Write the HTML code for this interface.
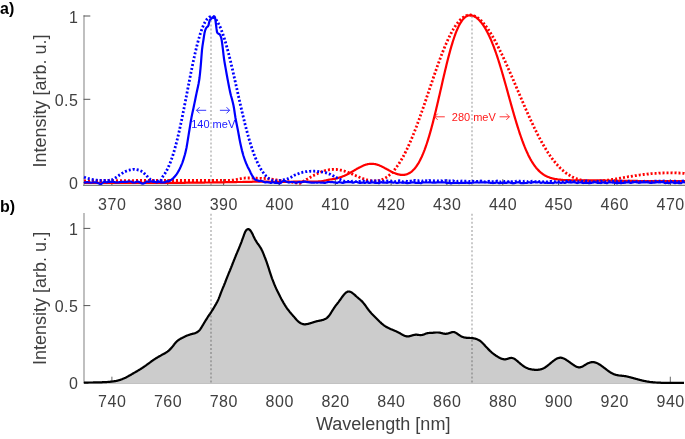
<!DOCTYPE html><html><head><meta charset="utf-8"><style>html,body{margin:0;padding:0;background:#fff;width:685px;height:439px;overflow:hidden}svg{display:block;will-change:transform;font-family:"Liberation Sans",sans-serif}</style></head><body><svg width="685" height="439" viewBox="0 0 685 439" font-family="Liberation Sans, sans-serif"><line x1="84" y1="15.2" x2="84" y2="186" stroke="#b0b0b0" stroke-width="1.6"/><line x1="83.2" y1="185.4" x2="685" y2="185.4" stroke="#808080" stroke-width="1.2"/><line x1="83.6" y1="16" x2="90.3" y2="16" stroke="#555" stroke-width="1"/><line x1="83.6" y1="99.3" x2="90.3" y2="99.3" stroke="#555" stroke-width="1"/><line x1="83.6" y1="182.6" x2="90.3" y2="182.6" stroke="#555" stroke-width="1"/><line x1="111.9" y1="185" x2="111.9" y2="179.2" stroke="#555" stroke-width="1"/><line x1="167.7" y1="185" x2="167.7" y2="179.2" stroke="#555" stroke-width="1"/><line x1="223.6" y1="185" x2="223.6" y2="179.2" stroke="#555" stroke-width="1"/><line x1="279.4" y1="185" x2="279.4" y2="179.2" stroke="#555" stroke-width="1"/><line x1="335.3" y1="185" x2="335.3" y2="179.2" stroke="#555" stroke-width="1"/><line x1="391.1" y1="185" x2="391.1" y2="179.2" stroke="#555" stroke-width="1"/><line x1="446.9" y1="185" x2="446.9" y2="179.2" stroke="#555" stroke-width="1"/><line x1="502.8" y1="185" x2="502.8" y2="179.2" stroke="#555" stroke-width="1"/><line x1="558.6" y1="185" x2="558.6" y2="179.2" stroke="#555" stroke-width="1"/><line x1="614.5" y1="185" x2="614.5" y2="179.2" stroke="#555" stroke-width="1"/><line x1="670.3" y1="185" x2="670.3" y2="179.2" stroke="#555" stroke-width="1"/><line x1="84" y1="213" x2="84" y2="383.4" stroke="#b0b0b0" stroke-width="1.6"/><line x1="83.6" y1="228.4" x2="90.3" y2="228.4" stroke="#555" stroke-width="1"/><line x1="83.6" y1="305.6" x2="90.3" y2="305.6" stroke="#555" stroke-width="1"/><line x1="83.6" y1="382.7" x2="90.3" y2="382.7" stroke="#555" stroke-width="1"/><line x1="111.9" y1="382.6" x2="111.9" y2="376.7" stroke="#666" stroke-width="1"/><line x1="167.7" y1="382.6" x2="167.7" y2="376.7" stroke="#666" stroke-width="1"/><line x1="223.6" y1="382.6" x2="223.6" y2="376.7" stroke="#666" stroke-width="1"/><line x1="279.4" y1="382.6" x2="279.4" y2="376.7" stroke="#666" stroke-width="1"/><line x1="335.3" y1="382.6" x2="335.3" y2="376.7" stroke="#666" stroke-width="1"/><line x1="391.1" y1="382.6" x2="391.1" y2="376.7" stroke="#666" stroke-width="1"/><line x1="446.9" y1="382.6" x2="446.9" y2="376.7" stroke="#666" stroke-width="1"/><line x1="502.8" y1="382.6" x2="502.8" y2="376.7" stroke="#666" stroke-width="1"/><line x1="558.6" y1="382.6" x2="558.6" y2="376.7" stroke="#666" stroke-width="1"/><line x1="614.5" y1="382.6" x2="614.5" y2="376.7" stroke="#666" stroke-width="1"/><line x1="670.3" y1="382.6" x2="670.3" y2="376.7" stroke="#666" stroke-width="1"/><path d="M84,382.7L84.5,382.7L85,382.7L85.5,382.6L86,382.6L86.5,382.6L87,382.6L87.5,382.6L88,382.6L88.5,382.5L89,382.5L89.5,382.5L90,382.5L90.5,382.5L91,382.5L91.5,382.5L92,382.5L92.5,382.5L93,382.5L93.5,382.4L94,382.4L94.5,382.4L95,382.4L95.5,382.4L96,382.4L96.5,382.4L97,382.4L97.5,382.4L98,382.4L98.5,382.4L99,382.3L99.5,382.3L100,382.3L100.5,382.3L101,382.3L101.5,382.3L102,382.3L102.5,382.2L103,382.2L103.5,382.2L104,382.2L104.5,382.2L105,382.1L105.5,382.1L106,382.1L106.5,382.1L107,382L107.5,382L108,381.9L108.5,381.9L109,381.9L109.5,381.8L110,381.8L110.5,381.7L111,381.7L111.5,381.6L112,381.6L112.5,381.5L113,381.4L113.5,381.4L114,381.3L114.5,381.2L115,381.1L115.5,381.1L116,381L116.5,380.9L117,380.8L117.5,380.6L118,380.5L118.5,380.4L119,380.2L119.5,380.1L120,379.9L120.5,379.8L121,379.6L121.5,379.4L122,379.2L122.5,379L123,378.8L123.5,378.6L124,378.4L124.5,378.1L125,377.9L125.5,377.7L126,377.4L126.5,377.2L127,376.9L127.5,376.6L128,376.4L128.5,376.1L129,375.8L129.5,375.5L130,375.2L130.5,375L131,374.7L131.5,374.4L132,374.1L132.5,373.8L133,373.5L133.5,373.2L134,372.9L134.5,372.6L135,372.4L135.5,372.1L136,371.8L136.5,371.5L137,371.2L137.5,370.9L138,370.6L138.5,370.3L139,370L139.5,369.7L140,369.4L140.5,369.1L141,368.8L141.5,368.5L142,368.1L142.5,367.8L143,367.5L143.5,367.1L144,366.8L144.5,366.4L145,366.1L145.5,365.7L146,365.4L146.5,365L147,364.6L147.5,364.3L148,363.9L148.5,363.5L149,363.2L149.5,362.8L150,362.4L150.5,362.1L151,361.7L151.5,361.3L152,361L152.5,360.6L153,360.3L153.5,359.9L154,359.6L154.5,359.3L155,358.9L155.5,358.6L156,358.3L156.5,358L157,357.7L157.5,357.4L158,357.1L158.5,356.8L159,356.5L159.5,356.2L160,355.9L160.5,355.7L161,355.4L161.5,355.1L162,354.8L162.5,354.6L163,354.3L163.5,354.1L164,353.8L164.5,353.5L165,353.2L165.5,352.9L166,352.6L166.5,352.3L167,351.9L167.5,351.6L168,351.2L168.5,350.8L169,350.4L169.5,349.9L170,349.4L170.5,348.9L171,348.4L171.5,347.8L172,347.2L172.5,346.6L173,346L173.5,345.3L174,344.7L174.5,344L175,343.4L175.5,342.8L176,342.2L176.5,341.7L177,341.2L177.5,340.8L178,340.4L178.5,340L179,339.7L179.5,339.4L180,339.1L180.5,338.8L181,338.5L181.5,338.2L182,338L182.5,337.7L183,337.5L183.5,337.2L184,337L184.5,336.7L185,336.5L185.5,336.3L186,336.1L186.5,335.8L187,335.6L187.5,335.4L188,335.2L188.5,335L189,334.9L189.5,334.7L190,334.5L190.5,334.4L191,334.2L191.5,334.1L192,334L192.5,333.8L193,333.7L193.5,333.6L194,333.5L194.5,333.4L195,333.2L195.5,333L196,332.8L196.5,332.6L197,332.3L197.5,332L198,331.6L198.5,331.2L199,330.7L199.5,330.2L200,329.6L200.5,328.9L201,328.1L201.5,327.3L202,326.5L202.5,325.7L203,324.9L203.5,324L204,323.2L204.5,322.3L205,321.5L205.5,320.7L206,319.9L206.5,319.1L207,318.3L207.5,317.5L208,316.7L208.5,316L209,315.2L209.5,314.5L210,313.8L210.5,313L211,312.3L211.5,311.5L212,310.7L212.5,310L213,309.1L213.5,308.3L214,307.5L214.5,306.7L215,305.8L215.5,304.9L216,304.1L216.5,303.1L217,302.2L217.5,301.2L218,300.2L218.5,299.1L219,297.9L219.5,296.7L220,295.3L220.5,294L221,292.6L221.5,291.3L222,290.1L222.5,288.9L223,287.7L223.5,286.5L224,285.3L224.5,284L225,282.8L225.5,281.5L226,280.2L226.5,278.9L227,277.6L227.5,276.4L228,275.2L228.5,273.9L229,272.7L229.5,271.5L230,270.3L230.5,269L231,267.8L231.5,266.5L232,265.3L232.5,264L233,262.7L233.5,261.5L234,260.2L234.5,259L235,257.7L235.5,256.5L236,255.2L236.5,254L237,252.9L237.5,251.7L238,250.5L238.5,249.3L239,248.1L239.5,246.9L240,245.7L240.5,244.4L241,243.1L241.5,241.8L242,240.4L242.5,239L243,237.7L243.5,236.3L244,234.9L244.5,233.5L245,232.3L245.5,231.3L246,230.5L246.5,229.9L247,229.5L247.5,229.3L248,229.2L248.5,229.2L249,229.3L249.5,229.6L250,230.1L250.5,230.6L251,231.3L251.5,232.2L252,233.1L252.5,234.1L253,235.1L253.5,236.2L254,237.2L254.5,238.2L255,239.2L255.5,240.1L256,240.9L256.5,241.8L257,242.5L257.5,243.3L258,244L258.5,244.7L259,245.4L259.5,246.1L260,246.9L260.5,247.6L261,248.5L261.5,249.4L262,250.4L262.5,251.5L263,252.7L263.5,253.9L264,255.2L264.5,256.5L265,257.7L265.5,259L266,260.3L266.5,261.7L267,263.1L267.5,264.6L268,266.1L268.5,267.7L269,269.2L269.5,270.8L270,272.3L270.5,273.9L271,275.4L271.5,276.8L272,278.3L272.5,279.6L273,281L273.5,282.2L274,283.5L274.5,284.7L275,285.8L275.5,287L276,288.1L276.5,289.2L277,290.2L277.5,291.3L278,292.3L278.5,293.3L279,294.3L279.5,295.3L280,296.3L280.5,297.3L281,298.2L281.5,299.2L282,300.1L282.5,301L283,301.9L283.5,302.8L284,303.6L284.5,304.4L285,305.3L285.5,306L286,306.8L286.5,307.5L287,308.3L287.5,309L288,309.6L288.5,310.3L289,310.9L289.5,311.6L290,312.2L290.5,312.8L291,313.4L291.5,314L292,314.5L292.5,315.1L293,315.7L293.5,316.3L294,316.8L294.5,317.4L295,318L295.5,318.6L296,319.1L296.5,319.7L297,320.2L297.5,320.7L298,321.2L298.5,321.7L299,322.1L299.5,322.5L300,322.8L300.5,323.1L301,323.4L301.5,323.6L302,323.8L302.5,324L303,324.1L303.5,324.2L304,324.3L304.5,324.3L305,324.3L305.5,324.3L306,324.2L306.5,324.2L307,324.1L307.5,324L308,323.9L308.5,323.8L309,323.6L309.5,323.5L310,323.3L310.5,323.2L311,323L311.5,322.9L312,322.7L312.5,322.5L313,322.4L313.5,322.2L314,322.1L314.5,321.9L315,321.7L315.5,321.6L316,321.5L316.5,321.3L317,321.2L317.5,321.1L318,321L318.5,320.9L319,320.8L319.5,320.7L320,320.6L320.5,320.5L321,320.4L321.5,320.3L322,320.1L322.5,320L323,319.9L323.5,319.7L324,319.5L324.5,319.3L325,319.1L325.5,318.9L326,318.6L326.5,318.2L327,317.9L327.5,317.4L328,316.9L328.5,316.4L329,315.8L329.5,315.1L330,314.4L330.5,313.6L331,312.8L331.5,312L332,311.2L332.5,310.4L333,309.5L333.5,308.8L334,308L334.5,307.3L335,306.6L335.5,305.9L336,305.2L336.5,304.6L337,304L337.5,303.3L338,302.7L338.5,302.1L339,301.4L339.5,300.7L340,300L340.5,299.3L341,298.6L341.5,297.9L342,297.2L342.5,296.5L343,295.8L343.5,295.2L344,294.6L344.5,294L345,293.5L345.5,293L346,292.6L346.5,292.2L347,292L347.5,291.7L348,291.6L348.5,291.5L349,291.5L349.5,291.6L350,291.7L350.5,291.9L351,292.1L351.5,292.4L352,292.7L352.5,293.1L353,293.5L353.5,293.9L354,294.3L354.5,294.7L355,295.1L355.5,295.6L356,296.1L356.5,296.5L357,297L357.5,297.4L358,297.8L358.5,298.3L359,298.7L359.5,299.1L360,299.5L360.5,300L361,300.4L361.5,300.9L362,301.4L362.5,301.9L363,302.5L363.5,303.1L364,303.7L364.5,304.3L365,305L365.5,305.7L366,306.4L366.5,307.1L367,307.8L367.5,308.5L368,309.2L368.5,309.8L369,310.5L369.5,311.1L370,311.7L370.5,312.3L371,312.9L371.5,313.5L372,314L372.5,314.5L373,315L373.5,315.5L374,316L374.5,316.5L375,317L375.5,317.5L376,318L376.5,318.5L377,319L377.5,319.5L378,320L378.5,320.5L379,321L379.5,321.5L380,322L380.5,322.4L381,322.9L381.5,323.4L382,323.8L382.5,324.2L383,324.6L383.5,325L384,325.4L384.5,325.7L385,326.1L385.5,326.4L386,326.7L386.5,327L387,327.3L387.5,327.6L388,327.8L388.5,328.1L389,328.3L389.5,328.5L390,328.8L390.5,329L391,329.2L391.5,329.4L392,329.6L392.5,329.8L393,330L393.5,330.2L394,330.4L394.5,330.6L395,330.9L395.5,331.1L396,331.3L396.5,331.5L397,331.8L397.5,332L398,332.3L398.5,332.5L399,332.8L399.5,333L400,333.3L400.5,333.6L401,333.9L401.5,334.2L402,334.4L402.5,334.7L403,335L403.5,335.2L404,335.5L404.5,335.7L405,335.9L405.5,336.1L406,336.2L406.5,336.3L407,336.4L407.5,336.4L408,336.4L408.5,336.4L409,336.3L409.5,336.2L410,336.1L410.5,335.9L411,335.8L411.5,335.6L412,335.5L412.5,335.3L413,335.2L413.5,335.1L414,334.9L414.5,334.8L415,334.8L415.5,334.7L416,334.7L416.5,334.7L417,334.7L417.5,334.8L418,334.8L418.5,334.9L419,335L419.5,335L420,335.1L420.5,335.1L421,335.1L421.5,335L422,335L422.5,334.9L423,334.7L423.5,334.6L424,334.4L424.5,334.2L425,334L425.5,333.8L426,333.6L426.5,333.4L427,333.3L427.5,333.2L428,333.1L428.5,333L429,333L429.5,332.9L430,332.9L430.5,332.9L431,332.9L431.5,332.8L432,332.8L432.5,332.8L433,332.8L433.5,332.7L434,332.7L434.5,332.6L435,332.6L435.5,332.5L436,332.5L436.5,332.5L437,332.5L437.5,332.5L438,332.5L438.5,332.5L439,332.6L439.5,332.6L440,332.7L440.5,332.8L441,333L441.5,333.1L442,333.2L442.5,333.3L443,333.5L443.5,333.6L444,333.7L444.5,333.7L445,333.8L445.5,333.8L446,333.8L446.5,333.7L447,333.7L447.5,333.6L448,333.5L448.5,333.3L449,333.2L449.5,333L450,332.8L450.5,332.7L451,332.5L451.5,332.3L452,332.2L452.5,332.1L453,332L453.5,332L454,332.1L454.5,332.2L455,332.4L455.5,332.6L456,332.9L456.5,333.2L457,333.5L457.5,333.9L458,334.3L458.5,334.6L459,335L459.5,335.3L460,335.6L460.5,335.9L461,336.2L461.5,336.4L462,336.7L462.5,336.9L463,337L463.5,337.2L464,337.4L464.5,337.5L465,337.6L465.5,337.7L466,337.7L466.5,337.8L467,337.8L467.5,337.9L468,337.9L468.5,337.9L469,337.9L469.5,337.9L470,338L470.5,338L471,338L471.5,338L472,338.1L472.5,338.1L473,338.2L473.5,338.3L474,338.4L474.5,338.5L475,338.6L475.5,338.7L476,338.9L476.5,339L477,339.2L477.5,339.4L478,339.7L478.5,339.9L479,340.2L479.5,340.5L480,340.8L480.5,341.2L481,341.6L481.5,342L482,342.5L482.5,343L483,343.5L483.5,344L484,344.5L484.5,345.1L485,345.6L485.5,346.2L486,346.7L486.5,347.3L487,347.8L487.5,348.3L488,348.9L488.5,349.4L489,349.9L489.5,350.4L490,350.9L490.5,351.3L491,351.8L491.5,352.3L492,352.7L492.5,353.1L493,353.5L493.5,353.9L494,354.3L494.5,354.6L495,355L495.5,355.3L496,355.7L496.5,356L497,356.3L497.5,356.6L498,356.9L498.5,357.2L499,357.5L499.5,357.7L500,358L500.5,358.2L501,358.5L501.5,358.7L502,358.8L502.5,359L503,359.1L503.5,359.2L504,359.3L504.5,359.3L505,359.3L505.5,359.3L506,359.2L506.5,359.1L507,359L507.5,358.8L508,358.7L508.5,358.5L509,358.3L509.5,358.2L510,358.1L510.5,358L511,357.9L511.5,357.9L512,358L512.5,358L513,358.2L513.5,358.4L514,358.6L514.5,358.9L515,359.2L515.5,359.6L516,360L516.5,360.4L517,360.8L517.5,361.2L518,361.6L518.5,362.1L519,362.5L519.5,362.9L520,363.4L520.5,363.8L521,364.2L521.5,364.6L522,365L522.5,365.4L523,365.8L523.5,366.1L524,366.5L524.5,366.8L525,367.1L525.5,367.4L526,367.6L526.5,367.9L527,368.1L527.5,368.3L528,368.5L528.5,368.7L529,368.9L529.5,369L530,369.1L530.5,369.2L531,369.3L531.5,369.4L532,369.5L532.5,369.6L533,369.6L533.5,369.7L534,369.7L534.5,369.8L535,369.8L535.5,369.8L536,369.8L536.5,369.8L537,369.8L537.5,369.8L538,369.8L538.5,369.7L539,369.7L539.5,369.6L540,369.5L540.5,369.4L541,369.3L541.5,369.1L542,369L542.5,368.8L543,368.6L543.5,368.4L544,368.1L544.5,367.8L545,367.5L545.5,367.2L546,366.8L546.5,366.5L547,366.1L547.5,365.7L548,365.3L548.5,364.9L549,364.5L549.5,364.1L550,363.7L550.5,363.2L551,362.8L551.5,362.4L552,362L552.5,361.6L553,361.2L553.5,360.8L554,360.4L554.5,360.1L555,359.7L555.5,359.4L556,359.1L556.5,358.8L557,358.6L557.5,358.3L558,358.2L558.5,358L559,357.9L559.5,357.8L560,357.7L560.5,357.7L561,357.7L561.5,357.8L562,357.9L562.5,358L563,358.2L563.5,358.4L564,358.6L564.5,358.9L565,359.1L565.5,359.4L566,359.7L566.5,360L567,360.4L567.5,360.7L568,361L568.5,361.4L569,361.7L569.5,362.1L570,362.5L570.5,362.8L571,363.2L571.5,363.5L572,363.9L572.5,364.3L573,364.6L573.5,364.9L574,365.3L574.5,365.6L575,365.9L575.5,366.2L576,366.4L576.5,366.7L577,366.9L577.5,367L578,367.2L578.5,367.3L579,367.3L579.5,367.3L580,367.3L580.5,367.2L581,367L581.5,366.9L582,366.7L582.5,366.4L583,366.2L583.5,365.9L584,365.6L584.5,365.3L585,365L585.5,364.7L586,364.4L586.5,364.1L587,363.8L587.5,363.6L588,363.3L588.5,363.1L589,362.9L589.5,362.7L590,362.5L590.5,362.4L591,362.3L591.5,362.2L592,362.1L592.5,362.1L593,362.1L593.5,362.1L594,362.2L594.5,362.3L595,362.4L595.5,362.6L596,362.7L596.5,362.9L597,363.1L597.5,363.4L598,363.6L598.5,363.9L599,364.2L599.5,364.5L600,364.8L600.5,365.1L601,365.5L601.5,365.8L602,366.2L602.5,366.5L603,366.9L603.5,367.3L604,367.7L604.5,368L605,368.4L605.5,368.8L606,369.2L606.5,369.6L607,370L607.5,370.4L608,370.7L608.5,371.1L609,371.5L609.5,371.8L610,372.1L610.5,372.5L611,372.8L611.5,373.1L612,373.3L612.5,373.6L613,373.8L613.5,374.1L614,374.3L614.5,374.4L615,374.6L615.5,374.7L616,374.9L616.5,375L617,375.1L617.5,375.2L618,375.3L618.5,375.4L619,375.5L619.5,375.5L620,375.6L620.5,375.6L621,375.7L621.5,375.7L622,375.8L622.5,375.8L623,375.9L623.5,375.9L624,376L624.5,376.1L625,376.1L625.5,376.2L626,376.3L626.5,376.4L627,376.5L627.5,376.6L628,376.7L628.5,376.9L629,377L629.5,377.1L630,377.2L630.5,377.4L631,377.5L631.5,377.6L632,377.8L632.5,377.9L633,378L633.5,378.2L634,378.3L634.5,378.5L635,378.6L635.5,378.7L636,378.9L636.5,379L637,379.1L637.5,379.3L638,379.4L638.5,379.6L639,379.7L639.5,379.8L640,380L640.5,380.1L641,380.2L641.5,380.3L642,380.5L642.5,380.6L643,380.7L643.5,380.8L644,380.9L644.5,381L645,381.1L645.5,381.2L646,381.3L646.5,381.4L647,381.5L647.5,381.6L648,381.7L648.5,381.7L649,381.8L649.5,381.9L650,382L650.5,382L651,382.1L651.5,382.1L652,382.2L652.5,382.2L653,382.3L653.5,382.3L654,382.4L654.5,382.4L655,382.4L655.5,382.5L656,382.5L656.5,382.5L657,382.6L657.5,382.6L658,382.6L658.5,382.7L659,382.7L659.5,382.7L660,382.7L660.5,382.7L661,382.8L661.5,382.8L662,382.8L662.5,382.8L663,382.8L663.5,382.8L664,382.9L664.5,382.9L665,382.9L665.5,382.9L666,382.9L666.5,382.9L667,382.9L667.5,382.9L668,382.9L668.5,382.9L669,382.9L669.5,382.9L670,382.9L670.5,382.9L671,382.9L671.5,382.9L672,382.9L672.5,382.9L673,382.9L673.5,382.9L674,382.9L674.5,382.9L675,382.9L675.5,382.9L676,382.9L676.5,382.9L677,382.9L677.5,382.9L678,382.9L678.5,382.8L679,382.8L679.5,382.8L680,382.8L680.5,382.8L681,382.8L681.5,382.8L682,382.8L682.5,382.8L683,382.8L683.5,382.8L684,382.8L684,383L84,383Z" fill="#cccccc" stroke="none"/><line x1="84" y1="383.5" x2="684" y2="383.5" stroke="#c2c2c2" stroke-width="1"/><line x1="211.0" y1="16.3" x2="211.0" y2="185" stroke="#000" stroke-opacity="0.38" stroke-width="1.1" stroke-dasharray="2 2.07"/><line x1="211.0" y1="213.7" x2="211.0" y2="383" stroke="#000" stroke-opacity="0.38" stroke-width="1.1" stroke-dasharray="2 2.07"/><line x1="472.0" y1="16.3" x2="472.0" y2="185" stroke="#000" stroke-opacity="0.38" stroke-width="1.1" stroke-dasharray="2 2.07"/><line x1="472.0" y1="213.7" x2="472.0" y2="383" stroke="#000" stroke-opacity="0.38" stroke-width="1.1" stroke-dasharray="2 2.07"/><path d="M84,382.7L84.5,382.7L85,382.7L85.5,382.6L86,382.6L86.5,382.6L87,382.6L87.5,382.6L88,382.6L88.5,382.5L89,382.5L89.5,382.5L90,382.5L90.5,382.5L91,382.5L91.5,382.5L92,382.5L92.5,382.5L93,382.5L93.5,382.4L94,382.4L94.5,382.4L95,382.4L95.5,382.4L96,382.4L96.5,382.4L97,382.4L97.5,382.4L98,382.4L98.5,382.4L99,382.3L99.5,382.3L100,382.3L100.5,382.3L101,382.3L101.5,382.3L102,382.3L102.5,382.2L103,382.2L103.5,382.2L104,382.2L104.5,382.2L105,382.1L105.5,382.1L106,382.1L106.5,382.1L107,382L107.5,382L108,381.9L108.5,381.9L109,381.9L109.5,381.8L110,381.8L110.5,381.7L111,381.7L111.5,381.6L112,381.6L112.5,381.5L113,381.4L113.5,381.4L114,381.3L114.5,381.2L115,381.1L115.5,381.1L116,381L116.5,380.9L117,380.8L117.5,380.6L118,380.5L118.5,380.4L119,380.2L119.5,380.1L120,379.9L120.5,379.8L121,379.6L121.5,379.4L122,379.2L122.5,379L123,378.8L123.5,378.6L124,378.4L124.5,378.1L125,377.9L125.5,377.7L126,377.4L126.5,377.2L127,376.9L127.5,376.6L128,376.4L128.5,376.1L129,375.8L129.5,375.5L130,375.2L130.5,375L131,374.7L131.5,374.4L132,374.1L132.5,373.8L133,373.5L133.5,373.2L134,372.9L134.5,372.6L135,372.4L135.5,372.1L136,371.8L136.5,371.5L137,371.2L137.5,370.9L138,370.6L138.5,370.3L139,370L139.5,369.7L140,369.4L140.5,369.1L141,368.8L141.5,368.5L142,368.1L142.5,367.8L143,367.5L143.5,367.1L144,366.8L144.5,366.4L145,366.1L145.5,365.7L146,365.4L146.5,365L147,364.6L147.5,364.3L148,363.9L148.5,363.5L149,363.2L149.5,362.8L150,362.4L150.5,362.1L151,361.7L151.5,361.3L152,361L152.5,360.6L153,360.3L153.5,359.9L154,359.6L154.5,359.3L155,358.9L155.5,358.6L156,358.3L156.5,358L157,357.7L157.5,357.4L158,357.1L158.5,356.8L159,356.5L159.5,356.2L160,355.9L160.5,355.7L161,355.4L161.5,355.1L162,354.8L162.5,354.6L163,354.3L163.5,354.1L164,353.8L164.5,353.5L165,353.2L165.5,352.9L166,352.6L166.5,352.3L167,351.9L167.5,351.6L168,351.2L168.5,350.8L169,350.4L169.5,349.9L170,349.4L170.5,348.9L171,348.4L171.5,347.8L172,347.2L172.5,346.6L173,346L173.5,345.3L174,344.7L174.5,344L175,343.4L175.5,342.8L176,342.2L176.5,341.7L177,341.2L177.5,340.8L178,340.4L178.5,340L179,339.7L179.5,339.4L180,339.1L180.5,338.8L181,338.5L181.5,338.2L182,338L182.5,337.7L183,337.5L183.5,337.2L184,337L184.5,336.7L185,336.5L185.5,336.3L186,336.1L186.5,335.8L187,335.6L187.5,335.4L188,335.2L188.5,335L189,334.9L189.5,334.7L190,334.5L190.5,334.4L191,334.2L191.5,334.1L192,334L192.5,333.8L193,333.7L193.5,333.6L194,333.5L194.5,333.4L195,333.2L195.5,333L196,332.8L196.5,332.6L197,332.3L197.5,332L198,331.6L198.5,331.2L199,330.7L199.5,330.2L200,329.6L200.5,328.9L201,328.1L201.5,327.3L202,326.5L202.5,325.7L203,324.9L203.5,324L204,323.2L204.5,322.3L205,321.5L205.5,320.7L206,319.9L206.5,319.1L207,318.3L207.5,317.5L208,316.7L208.5,316L209,315.2L209.5,314.5L210,313.8L210.5,313L211,312.3L211.5,311.5L212,310.7L212.5,310L213,309.1L213.5,308.3L214,307.5L214.5,306.7L215,305.8L215.5,304.9L216,304.1L216.5,303.1L217,302.2L217.5,301.2L218,300.2L218.5,299.1L219,297.9L219.5,296.7L220,295.3L220.5,294L221,292.6L221.5,291.3L222,290.1L222.5,288.9L223,287.7L223.5,286.5L224,285.3L224.5,284L225,282.8L225.5,281.5L226,280.2L226.5,278.9L227,277.6L227.5,276.4L228,275.2L228.5,273.9L229,272.7L229.5,271.5L230,270.3L230.5,269L231,267.8L231.5,266.5L232,265.3L232.5,264L233,262.7L233.5,261.5L234,260.2L234.5,259L235,257.7L235.5,256.5L236,255.2L236.5,254L237,252.9L237.5,251.7L238,250.5L238.5,249.3L239,248.1L239.5,246.9L240,245.7L240.5,244.4L241,243.1L241.5,241.8L242,240.4L242.5,239L243,237.7L243.5,236.3L244,234.9L244.5,233.5L245,232.3L245.5,231.3L246,230.5L246.5,229.9L247,229.5L247.5,229.3L248,229.2L248.5,229.2L249,229.3L249.5,229.6L250,230.1L250.5,230.6L251,231.3L251.5,232.2L252,233.1L252.5,234.1L253,235.1L253.5,236.2L254,237.2L254.5,238.2L255,239.2L255.5,240.1L256,240.9L256.5,241.8L257,242.5L257.5,243.3L258,244L258.5,244.7L259,245.4L259.5,246.1L260,246.9L260.5,247.6L261,248.5L261.5,249.4L262,250.4L262.5,251.5L263,252.7L263.5,253.9L264,255.2L264.5,256.5L265,257.7L265.5,259L266,260.3L266.5,261.7L267,263.1L267.5,264.6L268,266.1L268.5,267.7L269,269.2L269.5,270.8L270,272.3L270.5,273.9L271,275.4L271.5,276.8L272,278.3L272.5,279.6L273,281L273.5,282.2L274,283.5L274.5,284.7L275,285.8L275.5,287L276,288.1L276.5,289.2L277,290.2L277.5,291.3L278,292.3L278.5,293.3L279,294.3L279.5,295.3L280,296.3L280.5,297.3L281,298.2L281.5,299.2L282,300.1L282.5,301L283,301.9L283.5,302.8L284,303.6L284.5,304.4L285,305.3L285.5,306L286,306.8L286.5,307.5L287,308.3L287.5,309L288,309.6L288.5,310.3L289,310.9L289.5,311.6L290,312.2L290.5,312.8L291,313.4L291.5,314L292,314.5L292.5,315.1L293,315.7L293.5,316.3L294,316.8L294.5,317.4L295,318L295.5,318.6L296,319.1L296.5,319.7L297,320.2L297.5,320.7L298,321.2L298.5,321.7L299,322.1L299.5,322.5L300,322.8L300.5,323.1L301,323.4L301.5,323.6L302,323.8L302.5,324L303,324.1L303.5,324.2L304,324.3L304.5,324.3L305,324.3L305.5,324.3L306,324.2L306.5,324.2L307,324.1L307.5,324L308,323.9L308.5,323.8L309,323.6L309.5,323.5L310,323.3L310.5,323.2L311,323L311.5,322.9L312,322.7L312.5,322.5L313,322.4L313.5,322.2L314,322.1L314.5,321.9L315,321.7L315.5,321.6L316,321.5L316.5,321.3L317,321.2L317.5,321.1L318,321L318.5,320.9L319,320.8L319.5,320.7L320,320.6L320.5,320.5L321,320.4L321.5,320.3L322,320.1L322.5,320L323,319.9L323.5,319.7L324,319.5L324.5,319.3L325,319.1L325.5,318.9L326,318.6L326.5,318.2L327,317.9L327.5,317.4L328,316.9L328.5,316.4L329,315.8L329.5,315.1L330,314.4L330.5,313.6L331,312.8L331.5,312L332,311.2L332.5,310.4L333,309.5L333.5,308.8L334,308L334.5,307.3L335,306.6L335.5,305.9L336,305.2L336.5,304.6L337,304L337.5,303.3L338,302.7L338.5,302.1L339,301.4L339.5,300.7L340,300L340.5,299.3L341,298.6L341.5,297.9L342,297.2L342.5,296.5L343,295.8L343.5,295.2L344,294.6L344.5,294L345,293.5L345.5,293L346,292.6L346.5,292.2L347,292L347.5,291.7L348,291.6L348.5,291.5L349,291.5L349.5,291.6L350,291.7L350.5,291.9L351,292.1L351.5,292.4L352,292.7L352.5,293.1L353,293.5L353.5,293.9L354,294.3L354.5,294.7L355,295.1L355.5,295.6L356,296.1L356.5,296.5L357,297L357.5,297.4L358,297.8L358.5,298.3L359,298.7L359.5,299.1L360,299.5L360.5,300L361,300.4L361.5,300.9L362,301.4L362.5,301.9L363,302.5L363.5,303.1L364,303.7L364.5,304.3L365,305L365.5,305.7L366,306.4L366.5,307.1L367,307.8L367.5,308.5L368,309.2L368.5,309.8L369,310.5L369.5,311.1L370,311.7L370.5,312.3L371,312.9L371.5,313.5L372,314L372.5,314.5L373,315L373.5,315.5L374,316L374.5,316.5L375,317L375.5,317.5L376,318L376.5,318.5L377,319L377.5,319.5L378,320L378.5,320.5L379,321L379.5,321.5L380,322L380.5,322.4L381,322.9L381.5,323.4L382,323.8L382.5,324.2L383,324.6L383.5,325L384,325.4L384.5,325.7L385,326.1L385.5,326.4L386,326.7L386.5,327L387,327.3L387.5,327.6L388,327.8L388.5,328.1L389,328.3L389.5,328.5L390,328.8L390.5,329L391,329.2L391.5,329.4L392,329.6L392.5,329.8L393,330L393.5,330.2L394,330.4L394.5,330.6L395,330.9L395.5,331.1L396,331.3L396.5,331.5L397,331.8L397.5,332L398,332.3L398.5,332.5L399,332.8L399.5,333L400,333.3L400.5,333.6L401,333.9L401.5,334.2L402,334.4L402.5,334.7L403,335L403.5,335.2L404,335.5L404.5,335.7L405,335.9L405.5,336.1L406,336.2L406.5,336.3L407,336.4L407.5,336.4L408,336.4L408.5,336.4L409,336.3L409.5,336.2L410,336.1L410.5,335.9L411,335.8L411.5,335.6L412,335.5L412.5,335.3L413,335.2L413.5,335.1L414,334.9L414.5,334.8L415,334.8L415.5,334.7L416,334.7L416.5,334.7L417,334.7L417.5,334.8L418,334.8L418.5,334.9L419,335L419.5,335L420,335.1L420.5,335.1L421,335.1L421.5,335L422,335L422.5,334.9L423,334.7L423.5,334.6L424,334.4L424.5,334.2L425,334L425.5,333.8L426,333.6L426.5,333.4L427,333.3L427.5,333.2L428,333.1L428.5,333L429,333L429.5,332.9L430,332.9L430.5,332.9L431,332.9L431.5,332.8L432,332.8L432.5,332.8L433,332.8L433.5,332.7L434,332.7L434.5,332.6L435,332.6L435.5,332.5L436,332.5L436.5,332.5L437,332.5L437.5,332.5L438,332.5L438.5,332.5L439,332.6L439.5,332.6L440,332.7L440.5,332.8L441,333L441.5,333.1L442,333.2L442.5,333.3L443,333.5L443.5,333.6L444,333.7L444.5,333.7L445,333.8L445.5,333.8L446,333.8L446.5,333.7L447,333.7L447.5,333.6L448,333.5L448.5,333.3L449,333.2L449.5,333L450,332.8L450.5,332.7L451,332.5L451.5,332.3L452,332.2L452.5,332.1L453,332L453.5,332L454,332.1L454.5,332.2L455,332.4L455.5,332.6L456,332.9L456.5,333.2L457,333.5L457.5,333.9L458,334.3L458.5,334.6L459,335L459.5,335.3L460,335.6L460.5,335.9L461,336.2L461.5,336.4L462,336.7L462.5,336.9L463,337L463.5,337.2L464,337.4L464.5,337.5L465,337.6L465.5,337.7L466,337.7L466.5,337.8L467,337.8L467.5,337.9L468,337.9L468.5,337.9L469,337.9L469.5,337.9L470,338L470.5,338L471,338L471.5,338L472,338.1L472.5,338.1L473,338.2L473.5,338.3L474,338.4L474.5,338.5L475,338.6L475.5,338.7L476,338.9L476.5,339L477,339.2L477.5,339.4L478,339.7L478.5,339.9L479,340.2L479.5,340.5L480,340.8L480.5,341.2L481,341.6L481.5,342L482,342.5L482.5,343L483,343.5L483.5,344L484,344.5L484.5,345.1L485,345.6L485.5,346.2L486,346.7L486.5,347.3L487,347.8L487.5,348.3L488,348.9L488.5,349.4L489,349.9L489.5,350.4L490,350.9L490.5,351.3L491,351.8L491.5,352.3L492,352.7L492.5,353.1L493,353.5L493.5,353.9L494,354.3L494.5,354.6L495,355L495.5,355.3L496,355.7L496.5,356L497,356.3L497.5,356.6L498,356.9L498.5,357.2L499,357.5L499.5,357.7L500,358L500.5,358.2L501,358.5L501.5,358.7L502,358.8L502.5,359L503,359.1L503.5,359.2L504,359.3L504.5,359.3L505,359.3L505.5,359.3L506,359.2L506.5,359.1L507,359L507.5,358.8L508,358.7L508.5,358.5L509,358.3L509.5,358.2L510,358.1L510.5,358L511,357.9L511.5,357.9L512,358L512.5,358L513,358.2L513.5,358.4L514,358.6L514.5,358.9L515,359.2L515.5,359.6L516,360L516.5,360.4L517,360.8L517.5,361.2L518,361.6L518.5,362.1L519,362.5L519.5,362.9L520,363.4L520.5,363.8L521,364.2L521.5,364.6L522,365L522.5,365.4L523,365.8L523.5,366.1L524,366.5L524.5,366.8L525,367.1L525.5,367.4L526,367.6L526.5,367.9L527,368.1L527.5,368.3L528,368.5L528.5,368.7L529,368.9L529.5,369L530,369.1L530.5,369.2L531,369.3L531.5,369.4L532,369.5L532.5,369.6L533,369.6L533.5,369.7L534,369.7L534.5,369.8L535,369.8L535.5,369.8L536,369.8L536.5,369.8L537,369.8L537.5,369.8L538,369.8L538.5,369.7L539,369.7L539.5,369.6L540,369.5L540.5,369.4L541,369.3L541.5,369.1L542,369L542.5,368.8L543,368.6L543.5,368.4L544,368.1L544.5,367.8L545,367.5L545.5,367.2L546,366.8L546.5,366.5L547,366.1L547.5,365.7L548,365.3L548.5,364.9L549,364.5L549.5,364.1L550,363.7L550.5,363.2L551,362.8L551.5,362.4L552,362L552.5,361.6L553,361.2L553.5,360.8L554,360.4L554.5,360.1L555,359.7L555.5,359.4L556,359.1L556.5,358.8L557,358.6L557.5,358.3L558,358.2L558.5,358L559,357.9L559.5,357.8L560,357.7L560.5,357.7L561,357.7L561.5,357.8L562,357.9L562.5,358L563,358.2L563.5,358.4L564,358.6L564.5,358.9L565,359.1L565.5,359.4L566,359.7L566.5,360L567,360.4L567.5,360.7L568,361L568.5,361.4L569,361.7L569.5,362.1L570,362.5L570.5,362.8L571,363.2L571.5,363.5L572,363.9L572.5,364.3L573,364.6L573.5,364.9L574,365.3L574.5,365.6L575,365.9L575.5,366.2L576,366.4L576.5,366.7L577,366.9L577.5,367L578,367.2L578.5,367.3L579,367.3L579.5,367.3L580,367.3L580.5,367.2L581,367L581.5,366.9L582,366.7L582.5,366.4L583,366.2L583.5,365.9L584,365.6L584.5,365.3L585,365L585.5,364.7L586,364.4L586.5,364.1L587,363.8L587.5,363.6L588,363.3L588.5,363.1L589,362.9L589.5,362.7L590,362.5L590.5,362.4L591,362.3L591.5,362.2L592,362.1L592.5,362.1L593,362.1L593.5,362.1L594,362.2L594.5,362.3L595,362.4L595.5,362.6L596,362.7L596.5,362.9L597,363.1L597.5,363.4L598,363.6L598.5,363.9L599,364.2L599.5,364.5L600,364.8L600.5,365.1L601,365.5L601.5,365.8L602,366.2L602.5,366.5L603,366.9L603.5,367.3L604,367.7L604.5,368L605,368.4L605.5,368.8L606,369.2L606.5,369.6L607,370L607.5,370.4L608,370.7L608.5,371.1L609,371.5L609.5,371.8L610,372.1L610.5,372.5L611,372.8L611.5,373.1L612,373.3L612.5,373.6L613,373.8L613.5,374.1L614,374.3L614.5,374.4L615,374.6L615.5,374.7L616,374.9L616.5,375L617,375.1L617.5,375.2L618,375.3L618.5,375.4L619,375.5L619.5,375.5L620,375.6L620.5,375.6L621,375.7L621.5,375.7L622,375.8L622.5,375.8L623,375.9L623.5,375.9L624,376L624.5,376.1L625,376.1L625.5,376.2L626,376.3L626.5,376.4L627,376.5L627.5,376.6L628,376.7L628.5,376.9L629,377L629.5,377.1L630,377.2L630.5,377.4L631,377.5L631.5,377.6L632,377.8L632.5,377.9L633,378L633.5,378.2L634,378.3L634.5,378.5L635,378.6L635.5,378.7L636,378.9L636.5,379L637,379.1L637.5,379.3L638,379.4L638.5,379.6L639,379.7L639.5,379.8L640,380L640.5,380.1L641,380.2L641.5,380.3L642,380.5L642.5,380.6L643,380.7L643.5,380.8L644,380.9L644.5,381L645,381.1L645.5,381.2L646,381.3L646.5,381.4L647,381.5L647.5,381.6L648,381.7L648.5,381.7L649,381.8L649.5,381.9L650,382L650.5,382L651,382.1L651.5,382.1L652,382.2L652.5,382.2L653,382.3L653.5,382.3L654,382.4L654.5,382.4L655,382.4L655.5,382.5L656,382.5L656.5,382.5L657,382.6L657.5,382.6L658,382.6L658.5,382.7L659,382.7L659.5,382.7L660,382.7L660.5,382.7L661,382.8L661.5,382.8L662,382.8L662.5,382.8L663,382.8L663.5,382.8L664,382.9L664.5,382.9L665,382.9L665.5,382.9L666,382.9L666.5,382.9L667,382.9L667.5,382.9L668,382.9L668.5,382.9L669,382.9L669.5,382.9L670,382.9L670.5,382.9L671,382.9L671.5,382.9L672,382.9L672.5,382.9L673,382.9L673.5,382.9L674,382.9L674.5,382.9L675,382.9L675.5,382.9L676,382.9L676.5,382.9L677,382.9L677.5,382.9L678,382.9L678.5,382.8L679,382.8L679.5,382.8L680,382.8L680.5,382.8L681,382.8L681.5,382.8L682,382.8L682.5,382.8L683,382.8L683.5,382.8L684,382.8" fill="none" stroke="#000" stroke-width="2.2" stroke-linejoin="round"/><path d="M84,180.8L84.5,180.8L85,180.8L85.5,180.8L86,180.8L86.5,180.8L87,180.8L87.5,180.8L88,180.8L88.5,180.8L89,180.8L89.5,180.8L90,180.8L90.5,180.8L91,180.8L91.5,180.7L92,180.7L92.5,180.7L93,180.7L93.5,180.7L94,180.7L94.5,180.7L95,180.7L95.5,180.7L96,180.7L96.5,180.7L97,180.7L97.5,180.7L98,180.7L98.5,180.7L99,180.7L99.5,180.7L100,180.7L100.5,180.7L101,180.7L101.5,180.7L102,180.7L102.5,180.7L103,180.7L103.5,180.7L104,180.7L104.5,180.7L105,180.7L105.5,180.7L106,180.7L106.5,180.7L107,180.7L107.5,180.7L108,180.7L108.5,180.6L109,180.6L109.5,180.6L110,180.6L110.5,180.6L111,180.6L111.5,180.6L112,180.6L112.5,180.6L113,180.6L113.5,180.6L114,180.6L114.5,180.6L115,180.6L115.5,180.6L116,180.6L116.5,180.6L117,180.6L117.5,180.6L118,180.6L118.5,180.6L119,180.6L119.5,180.6L120,180.6L120.5,180.6L121,180.6L121.5,180.6L122,180.6L122.5,180.6L123,180.6L123.5,180.6L124,180.6L124.5,180.6L125,180.6L125.5,180.6L126,180.6L126.5,180.6L127,180.6L127.5,180.6L128,180.6L128.5,180.6L129,180.6L129.5,180.6L130,180.6L130.5,180.6L131,180.6L131.5,180.6L132,180.6L132.5,180.6L133,180.6L133.5,180.6L134,180.6L134.5,180.5L135,180.5L135.5,180.5L136,180.5L136.5,180.5L137,180.5L137.5,180.5L138,180.5L138.5,180.5L139,180.5L139.5,180.5L140,180.5L140.5,180.5L141,180.5L141.5,180.5L142,180.5L142.5,180.5L143,180.5L143.5,180.5L144,180.5L144.5,180.5L145,180.5L145.5,180.5L146,180.5L146.5,180.5L147,180.5L147.5,180.5L148,180.5L148.5,180.5L149,180.5L149.5,180.5L150,180.5L150.5,180.5L151,180.5L151.5,180.5L152,180.5L152.5,180.5L153,180.5L153.5,180.5L154,180.5L154.5,180.5L155,180.5L155.5,180.5L156,180.5L156.5,180.5L157,180.5L157.5,180.5L158,180.5L158.5,180.5L159,180.5L159.5,180.5L160,180.5L160.5,180.5L161,180.5L161.5,180.5L162,180.5L162.5,180.5L163,180.5L163.5,180.5L164,180.5L164.5,180.5L165,180.5L165.5,180.5L166,180.5L166.5,180.5L167,180.5L167.5,180.5L168,180.5L168.5,180.5L169,180.5L169.5,180.5L170,180.5L170.5,180.5L171,180.5L171.5,180.5L172,180.5L172.5,180.5L173,180.5L173.5,180.5L174,180.5L174.5,180.5L175,180.5L175.5,180.5L176,180.5L176.5,180.5L177,180.5L177.5,180.5L178,180.5L178.5,180.5L179,180.5L179.5,180.5L180,180.5L180.5,180.5L181,180.5L181.5,180.5L182,180.5L182.5,180.5L183,180.5L183.5,180.5L184,180.5L184.5,180.5L185,180.5L185.5,180.5L186,180.5L186.5,180.5L187,180.5L187.5,180.5L188,180.5L188.5,180.5L189,180.5L189.5,180.5L190,180.5L190.5,180.5L191,180.5L191.5,180.5L192,180.5L192.5,180.5L193,180.5L193.5,180.5L194,180.5L194.5,180.5L195,180.5L195.5,180.5L196,180.5L196.5,180.5L197,180.5L197.5,180.5L198,180.5L198.5,180.5L199,180.5L199.5,180.5L200,180.5L200.5,180.5L201,180.5L201.5,180.5L202,180.5L202.5,180.5L203,180.5L203.5,180.5L204,180.5L204.5,180.5L205,180.5L205.5,180.5L206,180.5L206.5,180.5L207,180.5L207.5,180.5L208,180.5L208.5,180.5L209,180.5L209.5,180.5L210,180.5L210.5,180.5L211,180.5L211.5,180.5L212,180.5L212.5,180.5L213,180.5L213.5,180.5L214,180.5L214.5,180.5L215,180.5L215.5,180.4L216,180.4L216.5,180.4L217,180.4L217.5,180.4L218,180.4L218.5,180.4L219,180.4L219.5,180.4L220,180.4L220.5,180.4L221,180.4L221.5,180.4L222,180.4L222.5,180.4L223,180.4L223.5,180.4L224,180.4L224.5,180.4L225,180.4L225.5,180.4L226,180.4L226.5,180.3L227,180.3L227.5,180.3L228,180.3L228.5,180.3L229,180.3L229.5,180.3L230,180.3L230.5,180.3L231,180.3L231.5,180.2L232,180.2L232.5,180.1L233,180.1L233.5,180L234,179.9L234.5,179.9L235,179.8L235.5,179.7L236,179.6L236.5,179.5L237,179.4L237.5,179.3L238,179.2L238.5,179.1L239,179L239.5,178.9L240,178.8L240.5,178.7L241,178.6L241.5,178.5L242,178.4L242.5,178.4L243,178.3L243.5,178.2L244,178.2L244.5,178.1L245,178.1L245.5,178L246,178L246.5,178L247,178L247.5,178L248,178L248.5,178L249,178L249.5,178L250,178L250.5,178.1L251,178.1L251.5,178.1L252,178.1L252.5,178.1L253,178.1L253.5,178.2L254,178.2L254.5,178.2L255,178.2L255.5,178.2L256,178.2L256.5,178.2L257,178.2L257.5,178.3L258,178.3L258.5,178.3L259,178.3L259.5,178.3L260,178.3L260.5,178.3L261,178.3L261.5,178.3L262,178.4L262.5,178.4L263,178.4L263.5,178.4L264,178.4L264.5,178.4L265,178.5L265.5,178.5L266,178.5L266.5,178.5L267,178.6L267.5,178.6L268,178.7L268.5,178.7L269,178.8L269.5,178.8L270,178.9L270.5,179L271,179.1L271.5,179.2L272,179.2L272.5,179.3L273,179.4L273.5,179.5L274,179.6L274.5,179.6L275,179.7L275.5,179.8L276,179.8L276.5,179.9L277,180L277.5,180.1L278,180.1L278.5,180.2L279,180.3L279.5,180.4L280,180.4L280.5,180.5L281,180.6L281.5,180.7L282,180.7L282.5,180.8L283,180.9L283.5,181L284,181L284.5,181.1L285,181.2L285.5,181.3L286,181.3L286.5,181.4L287,181.5L287.5,181.6L288,181.6L288.5,181.7L289,181.8L289.5,181.9L290,181.9L290.5,182L291,182.1L291.5,182.2L292,182.2L292.5,182.3L293,182.4L293.5,182.5L294,182.5L294.5,182.6L295,182.7L295.5,182.8L296,182.9L296.5,183L297,183.1L297.5,183.1L298,183.2L298.5,183.3L299,183.3L299.5,183.3L300,183.3L300.5,183.1L301,182.8L301.5,182.5L302,182.2L302.5,181.9L303,181.6L303.5,181.3L304,181L304.5,180.7L305,180.4L305.5,180.1L306,179.8L306.5,179.5L307,179.2L307.5,179L308,178.7L308.5,178.4L309,178.1L309.5,177.8L310,177.5L310.5,177.2L311,176.9L311.5,176.7L312,176.4L312.5,176.1L313,175.8L313.5,175.6L314,175.3L314.5,175L315,174.8L315.5,174.5L316,174.3L316.5,174L317,173.8L317.5,173.5L318,173.3L318.5,173.1L319,172.9L319.5,172.6L320,172.4L320.5,172.2L321,172L321.5,171.8L322,171.7L322.5,171.5L323,171.3L323.5,171.1L324,171L324.5,170.8L325,170.7L325.5,170.5L326,170.4L326.5,170.3L327,170.2L327.5,170.1L328,170L328.5,169.9L329,169.8L329.5,169.7L330,169.7L330.5,169.6L331,169.5L331.5,169.5L332,169.5L332.5,169.4L333,169.4L333.5,169.4L334,169.4L334.5,169.4L335,169.4L335.5,169.5L336,169.5L336.5,169.5L337,169.6L337.5,169.6L338,169.7L338.5,169.8L339,169.9L339.5,169.9L340,170L340.5,170.1L341,170.2L341.5,170.4L342,170.5L342.5,170.6L343,170.7L343.5,170.9L344,171L344.5,171.2L345,171.3L345.5,171.5L346,171.7L346.5,171.8L347,172L347.5,172.2L348,172.4L348.5,172.6L349,172.8L349.5,173L350,173.2L350.5,173.4L351,173.6L351.5,173.8L352,174L352.5,174.2L353,174.4L353.5,174.7L354,174.9L354.5,175.1L355,175.3L355.5,175.5L356,175.8L356.5,176L357,176.2L357.5,176.4L358,176.6L358.5,176.8L359,177.1L359.5,177.3L360,177.5L360.5,177.7L361,177.9L361.5,178.1L362,178.3L362.5,178.5L363,178.6L363.5,178.8L364,179L364.5,179.2L365,179.3L365.5,179.5L366,179.6L366.5,179.8L367,179.9L367.5,180.1L368,180.2L368.5,180.3L369,180.4L369.5,180.5L370,180.6L370.5,180.7L371,180.8L371.5,180.8L372,180.9L372.5,180.9L373,181L373.5,181L374,181L374.5,181L375,181L375.5,181L376,181L376.5,180.9L377,180.9L377.5,180.8L378,180.7L378.5,180.6L379,180.5L379.5,180.4L380,180.3L380.5,180.1L381,180L381.5,179.8L382,179.6L382.5,179.4L383,179.2L383.5,179L384,178.7L384.5,178.4L385,178.2L385.5,177.9L386,177.6L386.5,177.2L387,176.9L387.5,176.5L388,176.2L388.5,175.8L389,175.4L389.5,175L390,174.5L390.5,174.1L391,173.6L391.5,173.1L392,172.6L392.5,172.1L393,171.5L393.5,171L394,170.4L394.5,169.8L395,169.2L395.5,168.5L396,167.9L396.5,167.2L397,166.5L397.5,165.8L398,165.1L398.5,164.4L399,163.6L399.5,162.8L400,162L400.5,161.2L401,160.4L401.5,159.6L402,158.7L402.5,157.8L403,156.9L403.5,156L404,155.1L404.5,154.1L405,153.1L405.5,152.1L406,151.1L406.5,150.1L407,149.1L407.5,148L408,146.9L408.5,145.8L409,144.7L409.5,143.6L410,142.5L410.5,141.3L411,140.2L411.5,139L412,137.8L412.5,136.6L413,135.3L413.5,134.1L414,132.8L414.5,131.6L415,130.3L415.5,129L416,127.7L416.5,126.4L417,125L417.5,123.7L418,122.3L418.5,121L419,119.6L419.5,118.2L420,116.8L420.5,115.4L421,114L421.5,112.6L422,111.1L422.5,109.7L423,108.3L423.5,106.8L424,105.3L424.5,103.9L425,102.4L425.5,101L426,99.5L426.5,98L427,96.5L427.5,95L428,93.6L428.5,92.1L429,90.6L429.5,89.1L430,87.6L430.5,86.2L431,84.7L431.5,83.2L432,81.7L432.5,80.3L433,78.8L433.5,77.3L434,75.9L434.5,74.4L435,73L435.5,71.5L436,70.1L436.5,68.7L437,67.3L437.5,65.9L438,64.5L438.5,63.1L439,61.7L439.5,60.4L440,59L440.5,57.7L441,56.3L441.5,55L442,53.7L442.5,52.5L443,51.2L443.5,49.9L444,48.7L444.5,47.5L445,46.3L445.5,45.1L446,44L446.5,42.8L447,41.7L447.5,40.6L448,39.5L448.5,38.4L449,37.4L449.5,36.3L450,35.3L450.5,34.4L451,33.4L451.5,32.5L452,31.5L452.5,30.6L453,29.8L453.5,28.9L454,28.1L454.5,27.3L455,26.5L455.5,25.8L456,25L456.5,24.3L457,23.7L457.5,23L458,22.4L458.5,21.8L459,21.2L459.5,20.7L460,20.1L460.5,19.6L461,19.2L461.5,18.7L462,18.3L462.5,17.9L463,17.5L463.5,17.2L464,16.9L464.5,16.6L465,16.3L465.5,16.1L466,15.8L466.5,15.6L467,15.5L467.5,15.3L468,15.2L468.5,15.1L469,15.1L469.5,15L470,15L470.5,15L471,15.1L471.5,15.1L472,15.2L472.5,15.3L473,15.4L473.5,15.6L474,15.8L474.5,16L475,16.2L475.5,16.4L476,16.7L476.5,17L477,17.3L477.5,17.6L478,18L478.5,18.4L479,18.8L479.5,19.2L480,19.6L480.5,20.1L481,20.5L481.5,21L482,21.6L482.5,22.1L483,22.6L483.5,23.2L484,23.8L484.5,24.4L485,25L485.5,25.7L486,26.3L486.5,27L487,27.7L487.5,28.4L488,29.1L488.5,29.9L489,30.6L489.5,31.4L490,32.2L490.5,33L491,33.8L491.5,34.6L492,35.5L492.5,36.3L493,37.2L493.5,38.1L494,39L494.5,39.9L495,40.8L495.5,41.7L496,42.6L496.5,43.6L497,44.6L497.5,45.5L498,46.5L498.5,47.5L499,48.5L499.5,49.5L500,50.5L500.5,51.6L501,52.6L501.5,53.6L502,54.7L502.5,55.7L503,56.8L503.5,57.9L504,59L504.5,60.1L505,61.1L505.5,62.2L506,63.4L506.5,64.5L507,65.6L507.5,66.7L508,67.8L508.5,69L509,70.1L509.5,71.2L510,72.4L510.5,73.5L511,74.7L511.5,75.8L512,77L512.5,78.2L513,79.3L513.5,80.5L514,81.7L514.5,82.8L515,84L515.5,85.2L516,86.3L516.5,87.5L517,88.7L517.5,89.8L518,91L518.5,92.2L519,93.4L519.5,94.5L520,95.7L520.5,96.9L521,98L521.5,99.2L522,100.4L522.5,101.5L523,102.7L523.5,103.8L524,105L524.5,106.1L525,107.3L525.5,108.4L526,109.6L526.5,110.7L527,111.8L527.5,112.9L528,114.1L528.5,115.2L529,116.3L529.5,117.4L530,118.5L530.5,119.6L531,120.7L531.5,121.7L532,122.8L532.5,123.9L533,124.9L533.5,126L534,127L534.5,128.1L535,129.1L535.5,130.1L536,131.1L536.5,132.1L537,133.1L537.5,134.1L538,135.1L538.5,136L539,137L539.5,138L540,138.9L540.5,139.8L541,140.8L541.5,141.7L542,142.6L542.5,143.5L543,144.3L543.5,145.2L544,146.1L544.5,146.9L545,147.8L545.5,148.6L546,149.4L546.5,150.2L547,151L547.5,151.8L548,152.6L548.5,153.3L549,154.1L549.5,154.8L550,155.6L550.5,156.3L551,157L551.5,157.7L552,158.4L552.5,159L553,159.7L553.5,160.3L554,161L554.5,161.6L555,162.2L555.5,162.8L556,163.4L556.5,164L557,164.6L557.5,165.1L558,165.7L558.5,166.2L559,166.7L559.5,167.3L560,167.8L560.5,168.3L561,168.7L561.5,169.2L562,169.7L562.5,170.1L563,170.6L563.5,171L564,171.4L564.5,171.8L565,172.2L565.5,172.6L566,173L566.5,173.3L567,173.7L567.5,174L568,174.4L568.5,174.7L569,175L569.5,175.3L570,175.6L570.5,175.9L571,176.2L571.5,176.5L572,176.7L572.5,177L573,177.2L573.5,177.5L574,177.7L574.5,177.9L575,178.1L575.5,178.3L576,178.5L576.5,178.7L577,178.9L577.5,179.1L578,179.2L578.5,179.4L579,179.5L579.5,179.7L580,179.8L580.5,179.9L581,180.1L581.5,180.2L582,180.3L582.5,180.4L583,180.5L583.5,180.6L584,180.7L584.5,180.8L585,180.8L585.5,180.9L586,181L586.5,181L587,181.1L587.5,181.1L588,181.2L588.5,181.2L589,181.3L589.5,181.3L590,181.3L590.5,181.3L591,181.4L591.5,181.4L592,181.4L592.5,181.4L593,181.4L593.5,181.4L594,181.4L594.5,181.4L595,181.4L595.5,181.3L596,181.3L596.5,181.3L597,181.3L597.5,181.2L598,181.2L598.5,181.2L599,181.1L599.5,181.1L600,181.1L600.5,181L601,181L601.5,180.9L602,180.9L602.5,180.8L603,180.8L603.5,180.7L604,180.7L604.5,180.6L605,180.5L605.5,180.5L606,180.4L606.5,180.3L607,180.3L607.5,180.2L608,180.1L608.5,180.1L609,180L609.5,179.9L610,179.8L610.5,179.8L611,179.7L611.5,179.6L612,179.5L612.5,179.5L613,179.4L613.5,179.3L614,179.2L614.5,179.1L615,179L615.5,179L616,178.9L616.5,178.8L617,178.7L617.5,178.6L618,178.5L618.5,178.5L619,178.4L619.5,178.3L620,178.2L620.5,178.1L621,178L621.5,177.9L622,177.9L622.5,177.8L623,177.7L623.5,177.6L624,177.5L624.5,177.4L625,177.3L625.5,177.3L626,177.2L626.5,177.1L627,177L627.5,176.9L628,176.8L628.5,176.7L629,176.7L629.5,176.6L630,176.5L630.5,176.4L631,176.3L631.5,176.3L632,176.2L632.5,176.1L633,176L633.5,175.9L634,175.9L634.5,175.8L635,175.7L635.5,175.6L636,175.6L636.5,175.5L637,175.4L637.5,175.3L638,175.3L638.5,175.2L639,175.1L639.5,175.1L640,175L640.5,174.9L641,174.9L641.5,174.8L642,174.7L642.5,174.7L643,174.6L643.5,174.5L644,174.5L644.5,174.4L645,174.4L645.5,174.3L646,174.2L646.5,174.2L647,174.1L647.5,174.1L648,174L648.5,174L649,173.9L649.5,173.9L650,173.8L650.5,173.8L651,173.7L651.5,173.7L652,173.6L652.5,173.6L653,173.6L653.5,173.5L654,173.5L654.5,173.4L655,173.4L655.5,173.4L656,173.3L656.5,173.3L657,173.3L657.5,173.2L658,173.2L658.5,173.2L659,173.1L659.5,173.1L660,173.1L660.5,173.1L661,173L661.5,173L662,173L662.5,173L663,173L663.5,172.9L664,172.9L664.5,172.9L665,172.9L665.5,172.9L666,172.9L666.5,172.9L667,172.9L667.5,172.8L668,172.8L668.5,172.8L669,172.8L669.5,172.8L670,172.8L670.5,172.8L671,172.8L671.5,172.8L672,172.8L672.5,172.9L673,172.9L673.5,172.9L674,172.9L674.5,172.9L675,172.9L675.5,172.9L676,172.9L676.5,172.9L677,173L677.5,173L678,173L678.5,173L679,173L679.5,173.1L680,173.1L680.5,173.1L681,173.1L681.5,173.2L682,173.2L682.5,173.2L683,173.3L683.5,173.3L684,173.3L684.5,173.4L685,173.4" fill="none" stroke="#ff0000" stroke-width="2.8" stroke-dasharray="2 2"/><path d="M84,182.8L84.5,182.8L85,182.8L85.5,182.8L86,182.8L86.5,182.8L87,182.8L87.5,182.8L88,182.8L88.5,182.8L89,182.8L89.5,182.8L90,182.8L90.5,182.8L91,182.8L91.5,182.8L92,182.8L92.5,182.8L93,182.8L93.5,182.8L94,182.8L94.5,182.8L95,182.8L95.5,182.8L96,182.8L96.5,182.8L97,182.8L97.5,182.8L98,182.8L98.5,182.8L99,182.8L99.5,182.8L100,182.8L100.5,182.8L101,182.8L101.5,182.8L102,182.8L102.5,182.8L103,182.8L103.5,182.8L104,182.8L104.5,182.8L105,182.8L105.5,182.8L106,182.8L106.5,182.8L107,182.8L107.5,182.8L108,182.8L108.5,182.8L109,182.8L109.5,182.8L110,182.8L110.5,182.8L111,182.8L111.5,182.8L112,182.8L112.5,182.8L113,182.8L113.5,182.8L114,182.8L114.5,182.8L115,182.8L115.5,182.8L116,182.8L116.5,182.8L117,182.8L117.5,182.8L118,182.8L118.5,182.8L119,182.8L119.5,182.8L120,182.8L120.5,182.8L121,182.8L121.5,182.8L122,182.8L122.5,182.8L123,182.8L123.5,182.8L124,182.8L124.5,182.8L125,182.8L125.5,182.8L126,182.8L126.5,182.8L127,182.8L127.5,182.8L128,182.8L128.5,182.8L129,182.8L129.5,182.8L130,182.8L130.5,182.8L131,182.8L131.5,182.8L132,182.8L132.5,182.8L133,182.8L133.5,182.8L134,182.8L134.5,182.8L135,182.8L135.5,182.8L136,182.8L136.5,182.8L137,182.8L137.5,182.8L138,182.8L138.5,182.8L139,182.8L139.5,182.8L140,182.8L140.5,182.9L141,182.9L141.5,182.9L142,182.9L142.5,182.9L143,182.9L143.5,182.9L144,182.9L144.5,182.9L145,182.9L145.5,182.9L146,182.9L146.5,182.9L147,182.9L147.5,182.9L148,182.9L148.5,182.9L149,182.9L149.5,182.9L150,182.9L150.5,182.9L151,182.9L151.5,182.9L152,182.9L152.5,182.9L153,182.9L153.5,182.9L154,182.9L154.5,182.9L155,182.9L155.5,182.9L156,182.9L156.5,182.9L157,182.9L157.5,182.9L158,182.9L158.5,182.9L159,182.9L159.5,182.9L160,182.9L160.5,182.9L161,182.9L161.5,182.9L162,182.9L162.5,182.9L163,182.9L163.5,182.9L164,182.9L164.5,182.9L165,182.9L165.5,182.9L166,182.9L166.5,182.9L167,182.9L167.5,182.9L168,182.9L168.5,182.9L169,182.9L169.5,182.9L170,182.9L170.5,182.9L171,182.9L171.5,182.9L172,182.9L172.5,182.9L173,182.9L173.5,182.9L174,182.8L174.5,182.8L175,182.8L175.5,182.8L176,182.8L176.5,182.8L177,182.8L177.5,182.8L178,182.8L178.5,182.8L179,182.8L179.5,182.8L180,182.8L180.5,182.8L181,182.8L181.5,182.8L182,182.8L182.5,182.8L183,182.8L183.5,182.8L184,182.8L184.5,182.8L185,182.8L185.5,182.7L186,182.7L186.5,182.7L187,182.7L187.5,182.7L188,182.7L188.5,182.7L189,182.7L189.5,182.7L190,182.7L190.5,182.7L191,182.7L191.5,182.7L192,182.7L192.5,182.7L193,182.7L193.5,182.7L194,182.7L194.5,182.7L195,182.7L195.5,182.6L196,182.6L196.5,182.6L197,182.6L197.5,182.6L198,182.6L198.5,182.6L199,182.6L199.5,182.6L200,182.6L200.5,182.6L201,182.6L201.5,182.6L202,182.6L202.5,182.6L203,182.6L203.5,182.6L204,182.6L204.5,182.6L205,182.5L205.5,182.5L206,182.5L206.5,182.5L207,182.5L207.5,182.5L208,182.5L208.5,182.5L209,182.5L209.5,182.5L210,182.5L210.5,182.5L211,182.5L211.5,182.5L212,182.5L212.5,182.4L213,182.4L213.5,182.4L214,182.4L214.5,182.4L215,182.4L215.5,182.4L216,182.4L216.5,182.4L217,182.4L217.5,182.4L218,182.4L218.5,182.4L219,182.3L219.5,182.3L220,182.3L220.5,182.3L221,182.3L221.5,182.3L222,182.3L222.5,182.3L223,182.3L223.5,182.3L224,182.3L224.5,182.3L225,182.2L225.5,182.2L226,182.2L226.5,182.2L227,182.2L227.5,182.2L228,182.2L228.5,182.2L229,182.2L229.5,182.2L230,182.2L230.5,182.2L231,182.1L231.5,182.1L232,182.1L232.5,182.1L233,182.1L233.5,182.1L234,182.1L234.5,182.1L235,182.1L235.5,182.1L236,182.1L236.5,182.1L237,182L237.5,182L238,182L238.5,182L239,182L239.5,182L240,182L240.5,182L241,182L241.5,182L242,182L242.5,182L243,181.9L243.5,181.9L244,181.9L244.5,181.9L245,181.9L245.5,181.9L246,181.9L246.5,181.9L247,181.9L247.5,181.8L248,181.8L248.5,181.8L249,181.8L249.5,181.8L250,181.8L250.5,181.8L251,181.8L251.5,181.8L252,181.8L252.5,181.7L253,181.7L253.5,181.7L254,181.7L254.5,181.7L255,181.7L255.5,181.7L256,181.7L256.5,181.7L257,181.7L257.5,181.7L258,181.7L258.5,181.7L259,181.7L259.5,181.7L260,181.7L260.5,181.7L261,181.7L261.5,181.7L262,181.7L262.5,181.7L263,181.7L263.5,181.7L264,181.7L264.5,181.7L265,181.7L265.5,181.7L266,181.7L266.5,181.7L267,181.7L267.5,181.7L268,181.7L268.5,181.7L269,181.8L269.5,181.8L270,181.8L270.5,181.8L271,181.8L271.5,181.8L272,181.8L272.5,181.8L273,181.8L273.5,181.8L274,181.8L274.5,181.8L275,181.8L275.5,181.8L276,181.8L276.5,181.8L277,181.8L277.5,181.8L278,181.8L278.5,181.8L279,181.8L279.5,181.8L280,181.8L280.5,181.8L281,181.8L281.5,181.8L282,181.8L282.5,181.8L283,181.8L283.5,181.8L284,181.8L284.5,181.8L285,181.8L285.5,181.8L286,181.8L286.5,181.8L287,181.8L287.5,181.8L288,181.8L288.5,181.8L289,181.8L289.5,181.8L290,181.8L290.5,181.8L291,181.8L291.5,181.8L292,181.8L292.5,181.8L293,181.8L293.5,181.7L294,181.7L294.5,181.7L295,181.7L295.5,181.7L296,181.7L296.5,181.7L297,181.7L297.5,181.7L298,181.7L298.5,181.7L299,181.7L299.5,181.7L300,181.7L300.5,181.7L301,181.7L301.5,181.7L302,181.7L302.5,181.7L303,181.7L303.5,181.7L304,181.7L304.5,181.7L305,181.7L305.5,181.7L306,181.7L306.5,181.6L307,181.6L307.5,181.6L308,181.6L308.5,181.6L309,181.6L309.5,181.6L310,181.6L310.5,181.6L311,181.6L311.5,181.6L312,181.6L312.5,181.6L313,181.6L313.5,181.6L314,181.5L314.5,181.5L315,181.5L315.5,181.5L316,181.5L316.5,181.5L317,181.5L317.5,181.5L318,181.5L318.5,181.4L319,181.4L319.5,181.4L320,181.4L320.5,181.4L321,181.3L321.5,181.3L322,181.2L322.5,181.1L323,181L323.5,180.9L324,180.8L324.5,180.7L325,180.6L325.5,180.5L326,180.4L326.5,180.3L327,180.1L327.5,180L328,179.9L328.5,179.8L329,179.7L329.5,179.6L330,179.5L330.5,179.5L331,179.4L331.5,179.3L332,179.3L332.5,179.2L333,179.1L333.5,179L334,178.9L334.5,178.8L335,178.7L335.5,178.6L336,178.5L336.5,178.4L337,178.3L337.5,178.1L338,178L338.5,177.9L339,177.7L339.5,177.5L340,177.4L340.5,177.2L341,177L341.5,176.9L342,176.7L342.5,176.5L343,176.3L343.5,176.1L344,175.9L344.5,175.7L345,175.4L345.5,175.2L346,175L346.5,174.7L347,174.5L347.5,174.2L348,174L348.5,173.7L349,173.4L349.5,173.2L350,172.9L350.5,172.6L351,172.3L351.5,172.1L352,171.8L352.5,171.5L353,171.2L353.5,170.9L354,170.6L354.5,170.3L355,170L355.5,169.7L356,169.4L356.5,169.1L357,168.8L357.5,168.5L358,168.3L358.5,168L359,167.7L359.5,167.4L360,167.2L360.5,166.9L361,166.7L361.5,166.4L362,166.2L362.5,165.9L363,165.7L363.5,165.5L364,165.3L364.5,165.1L365,165L365.5,164.8L366,164.6L366.5,164.5L367,164.4L367.5,164.2L368,164.1L368.5,164L369,164L369.5,163.9L370,163.9L370.5,163.8L371,163.8L371.5,163.8L372,163.8L372.5,163.8L373,163.8L373.5,163.9L374,164L374.5,164L375,164.1L375.5,164.2L376,164.3L376.5,164.5L377,164.6L377.5,164.8L378,164.9L378.5,165.1L379,165.3L379.5,165.5L380,165.7L380.5,165.9L381,166.1L381.5,166.4L382,166.6L382.5,166.9L383,167.1L383.5,167.4L384,167.6L384.5,167.9L385,168.2L385.5,168.4L386,168.7L386.5,169L387,169.3L387.5,169.5L388,169.8L388.5,170.1L389,170.4L389.5,170.6L390,170.9L390.5,171.2L391,171.4L391.5,171.7L392,171.9L392.5,172.2L393,172.4L393.5,172.7L394,172.9L394.5,173.1L395,173.3L395.5,173.5L396,173.7L396.5,173.8L397,174L397.5,174.2L398,174.3L398.5,174.4L399,174.5L399.5,174.7L400,174.7L400.5,174.8L401,174.9L401.5,174.9L402,174.9L402.5,174.9L403,174.9L403.5,174.9L404,174.9L404.5,174.8L405,174.7L405.5,174.6L406,174.5L406.5,174.4L407,174.2L407.5,174L408,173.8L408.5,173.6L409,173.3L409.5,173L410,172.7L410.5,172.4L411,172.1L411.5,171.7L412,171.3L412.5,170.8L413,170.3L413.5,169.8L414,169.3L414.5,168.8L415,168.2L415.5,167.5L416,166.9L416.5,166.2L417,165.5L417.5,164.7L418,163.9L418.5,163.1L419,162.2L419.5,161.3L420,160.3L420.5,159.4L421,158.3L421.5,157.3L422,156.2L422.5,155L423,153.9L423.5,152.6L424,151.4L424.5,150.1L425,148.7L425.5,147.3L426,145.9L426.5,144.5L427,143L427.5,141.4L428,139.8L428.5,138.2L429,136.6L429.5,134.9L430,133.1L430.5,131.4L431,129.6L431.5,127.7L432,125.9L432.5,124L433,122.1L433.5,120.1L434,118.1L434.5,116.1L435,114.1L435.5,112L436,109.9L436.5,107.8L437,105.7L437.5,103.6L438,101.4L438.5,99.3L439,97.1L439.5,94.9L440,92.7L440.5,90.6L441,88.4L441.5,86.2L442,84L442.5,81.8L443,79.6L443.5,77.5L444,75.3L444.5,73.2L445,71.1L445.5,69L446,66.9L446.5,64.8L447,62.8L447.5,60.8L448,58.8L448.5,56.9L449,55L449.5,53.1L450,51.2L450.5,49.4L451,47.7L451.5,45.9L452,44.3L452.5,42.6L453,41L453.5,39.5L454,38L454.5,36.5L455,35.1L455.5,33.7L456,32.4L456.5,31.2L457,30L457.5,28.8L458,27.7L458.5,26.6L459,25.6L459.5,24.6L460,23.7L460.5,22.9L461,22.1L461.5,21.3L462,20.6L462.5,19.9L463,19.3L463.5,18.8L464,18.2L464.5,17.8L465,17.3L465.5,16.9L466,16.6L466.5,16.3L467,16L467.5,15.8L468,15.6L468.5,15.5L469,15.4L469.5,15.3L470,15.3L470.5,15.3L471,15.3L471.5,15.4L472,15.5L472.5,15.6L473,15.8L473.5,16L474,16.2L474.5,16.4L475,16.7L475.5,17L476,17.4L476.5,17.7L477,18.1L477.5,18.6L478,19L478.5,19.5L479,20L479.5,20.5L480,21.1L480.5,21.6L481,22.2L481.5,22.9L482,23.5L482.5,24.2L483,24.9L483.5,25.6L484,26.4L484.5,27.2L485,28L485.5,28.8L486,29.7L486.5,30.6L487,31.5L487.5,32.5L488,33.5L488.5,34.5L489,35.5L489.5,36.6L490,37.7L490.5,38.8L491,39.9L491.5,41.1L492,42.3L492.5,43.6L493,44.8L493.5,46.1L494,47.4L494.5,48.8L495,50.2L495.5,51.6L496,53L496.5,54.5L497,55.9L497.5,57.4L498,59L498.5,60.5L499,62.1L499.5,63.7L500,65.3L500.5,67L501,68.6L501.5,70.3L502,72L502.5,73.7L503,75.4L503.5,77.2L504,78.9L504.5,80.7L505,82.5L505.5,84.3L506,86L506.5,87.8L507,89.6L507.5,91.4L508,93.3L508.5,95.1L509,96.9L509.5,98.7L510,100.5L510.5,102.3L511,104.1L511.5,105.9L512,107.6L512.5,109.4L513,111.2L513.5,112.9L514,114.7L514.5,116.4L515,118.1L515.5,119.8L516,121.4L516.5,123.1L517,124.7L517.5,126.3L518,127.9L518.5,129.5L519,131L519.5,132.6L520,134.1L520.5,135.5L521,137L521.5,138.4L522,139.8L522.5,141.2L523,142.5L523.5,143.8L524,145.1L524.5,146.4L525,147.6L525.5,148.8L526,150L526.5,151.1L527,152.2L527.5,153.3L528,154.4L528.5,155.4L529,156.4L529.5,157.4L530,158.3L530.5,159.3L531,160.1L531.5,161L532,161.8L532.5,162.6L533,163.4L533.5,164.2L534,164.9L534.5,165.6L535,166.3L535.5,166.9L536,167.6L536.5,168.2L537,168.8L537.5,169.3L538,169.9L538.5,170.4L539,170.9L539.5,171.4L540,171.8L540.5,172.3L541,172.7L541.5,173.1L542,173.5L542.5,173.8L543,174.2L543.5,174.5L544,174.9L544.5,175.2L545,175.5L545.5,175.7L546,176L546.5,176.2L547,176.5L547.5,176.7L548,176.9L548.5,177.1L549,177.3L549.5,177.5L550,177.7L550.5,177.9L551,178L551.5,178.2L552,178.3L552.5,178.4L553,178.6L553.5,178.7L554,178.8L554.5,178.9L555,179L555.5,179.1L556,179.2L556.5,179.2L557,179.3L557.5,179.4L558,179.5L558.5,179.5L559,179.6L559.5,179.6L560,179.7L560.5,179.7L561,179.8L561.5,179.8L562,179.9L562.5,179.9L563,180L563.5,180L564,180L564.5,180L565,180.1L565.5,180.1L566,180.1L566.5,180.1L567,180.2L567.5,180.2L568,180.2L568.5,180.2L569,180.2L569.5,180.2L570,180.2L570.5,180.3L571,180.3L571.5,180.3L572,180.3L572.5,180.3L573,180.3L573.5,180.3L574,180.3L574.5,180.3L575,180.3L575.5,180.3L576,180.3L576.5,180.3L577,180.4L577.5,180.4L578,180.4L578.5,180.4L579,180.4L579.5,180.4L580,180.4L580.5,180.4L581,180.4L581.5,180.4L582,180.4L582.5,180.4L583,180.4L583.5,180.4L584,180.4L584.5,180.4L585,180.4L585.5,180.4L586,180.4L586.5,180.4L587,180.4L587.5,180.4L588,180.4L588.5,180.4L589,180.4L589.5,180.4L590,180.4L590.5,180.4L591,180.4L591.5,180.4L592,180.4L592.5,180.4L593,180.4L593.5,180.4L594,180.4L594.5,180.4L595,180.4L595.5,180.4L596,180.4L596.5,180.4L597,180.4L597.5,180.4L598,180.4L598.5,180.4L599,180.4L599.5,180.4L600,180.4L600.5,180.4L601,180.4L601.5,180.4L602,180.4L602.5,180.4L603,180.4L603.5,180.4L604,180.4L604.5,180.5L605,180.5L605.5,180.5L606,180.5L606.5,180.5L607,180.5L607.5,180.5L608,180.6L608.5,180.6L609,180.6L609.5,180.6L610,180.6L610.5,180.7L611,180.7L611.5,180.7L612,180.7L612.5,180.7L613,180.7L613.5,180.8L614,180.8L614.5,180.8L615,180.8L615.5,180.8L616,180.8L616.5,180.9L617,180.9L617.5,180.9L618,180.9L618.5,180.9L619,180.9L619.5,180.9L620,180.9L620.5,180.9L621,180.9L621.5,180.9L622,180.9L622.5,180.9L623,180.9L623.5,180.9L624,180.9L624.5,180.9L625,180.9L625.5,180.9L626,180.9L626.5,180.9L627,180.9L627.5,180.9L628,180.9L628.5,180.9L629,180.9L629.5,180.9L630,180.9L630.5,180.9L631,180.9L631.5,180.9L632,180.9L632.5,180.9L633,180.9L633.5,180.9L634,180.9L634.5,180.9L635,180.9L635.5,180.9L636,180.9L636.5,180.9L637,180.9L637.5,180.9L638,181L638.5,181L639,181L639.5,181L640,181L640.5,181L641,181L641.5,181L642,181L642.5,181L643,181L643.5,181L644,181L644.5,181L645,181L645.5,181L646,181L646.5,181L647,181L647.5,181L648,181L648.5,181L649,181L649.5,181L650,181L650.5,181L651,181L651.5,181L652,181L652.5,181L653,181L653.5,181L654,181L654.5,181L655,181L655.5,181L656,181L656.5,181L657,181L657.5,181L658,181L658.5,181L659,181L659.5,181L660,181L660.5,181L661,181L661.5,181L662,181L662.5,181L663,181L663.5,181L664,181L664.5,181L665,181L665.5,181L666,181L666.5,181L667,181L667.5,181L668,181L668.5,181L669,181L669.5,181L670,181L670.5,181L671,181L671.5,181L672,181L672.5,181L673,181L673.5,181L674,181L674.5,181L675,181L675.5,181L676,181L676.5,181L677,181L677.5,181L678,181L678.5,181L679,181L679.5,181L680,181L680.5,181L681,181L681.5,181L682,181L682.5,181L683,181L683.5,181L684,181L684.5,181L685,181" fill="none" stroke="#ff0000" stroke-width="2.2" stroke-linejoin="round"/><path d="M84,177.1L84.5,177.3L85,177.5L85.5,177.7L86,177.9L86.5,178L87,178.2L87.5,178.4L88,178.5L88.5,178.6L89,178.7L89.5,178.9L90,179L90.5,179.1L91,179.2L91.5,179.3L92,179.4L92.5,179.5L93,179.6L93.5,179.6L94,179.7L94.5,179.8L95,179.9L95.5,180L96,180.1L96.5,180.1L97,180.2L97.5,180.3L98,180.4L98.5,180.4L99,180.5L99.5,180.5L100,180.5L100.5,180.5L101,180.5L101.5,180.5L102,180.5L102.5,180.5L103,180.5L103.5,180.5L104,180.5L104.5,180.4L105,180.4L105.5,180.4L106,180.4L106.5,180.4L107,180.4L107.5,180.3L108,180.3L108.5,180.3L109,180.3L109.5,180.2L110,180.2L110.5,180.2L111,180.1L111.5,180L112,179.8L112.5,179.5L113,179.3L113.5,179L114,178.7L114.5,178.4L115,178.1L115.5,177.8L116,177.5L116.5,177.2L117,176.9L117.5,176.5L118,176.2L118.5,175.8L119,175.4L119.5,175L120,174.7L120.5,174.3L121,174L121.5,173.7L122,173.4L122.5,173.1L123,172.8L123.5,172.5L124,172.2L124.5,171.9L125,171.6L125.5,171.4L126,171.2L126.5,171L127,170.8L127.5,170.6L128,170.5L128.5,170.3L129,170.2L129.5,170L130,169.9L130.5,169.8L131,169.7L131.5,169.5L132,169.5L132.5,169.4L133,169.3L133.5,169.3L134,169.3L134.5,169.3L135,169.4L135.5,169.4L136,169.5L136.5,169.6L137,169.7L137.5,169.8L138,169.9L138.5,170.1L139,170.2L139.5,170.3L140,170.5L140.5,170.7L141,170.9L141.5,171.2L142,171.6L142.5,171.9L143,172.3L143.5,172.7L144,173.2L144.5,173.6L145,174L145.5,174.4L146,175L146.5,175.5L147,176.1L147.5,176.7L148,177.3L148.5,177.8L149,178.4L149.5,178.8L150,179.2L150.5,179.5L151,179.7L151.5,180L152,180.2L152.5,180.4L153,180.6L153.5,180.7L154,180.9L154.5,180.9L155,181L155.5,181L156,181.1L156.5,181.1L157,181.1L157.5,181.1L158,181.2L158.5,181.2L159,181.2L159.5,181.2L160,181.2L160.5,181.1L161,180.5L161.5,179.5L162,178.3L162.5,177.2L163,176.3L163.5,175.6L164,174.9L164.5,174.2L165,173.4L165.5,172.6L166,171.8L166.5,170.9L167,169.9L167.5,169L168,167.9L168.5,166.8L169,165.7L169.5,164.5L170,163.3L170.5,162L171,160.7L171.5,159.3L172,157.9L172.5,156.4L173,154.8L173.5,153.2L174,151.5L174.5,149.8L175,148.1L175.5,146.2L176,144.4L176.5,142.4L177,140.5L177.5,138.4L178,136.4L178.5,134.2L179,132.1L179.5,129.9L180,127.6L180.5,125.3L181,123L181.5,120.6L182,118.2L182.5,115.8L183,113.3L183.5,110.8L184,108.3L184.5,105.8L185,103.2L185.5,100.7L186,98.1L186.5,95.5L187,92.9L187.5,90.3L188,87.8L188.5,85.2L189,82.6L189.5,80.1L190,77.5L190.5,75L191,72.5L191.5,70L192,67.6L192.5,65.2L193,62.8L193.5,60.5L194,58.2L194.5,55.9L195,53.7L195.5,51.6L196,49.5L196.5,47.4L197,45.4L197.5,43.5L198,41.6L198.5,39.8L199,38L199.5,36.3L200,34.7L200.5,33.1L201,31.7L201.5,30.2L202,28.9L202.5,27.6L203,26.4L203.5,25.2L204,24.2L204.5,23.2L205,22.2L205.5,21.4L206,20.6L206.5,19.9L207,19.2L207.5,18.7L208,18.2L208.5,17.8L209,17.4L209.5,17.1L210,16.9L210.5,16.8L211,16.7L211.5,16.7L212,16.8L212.5,16.9L213,17.1L213.5,17.4L214,17.7L214.5,18.1L215,18.6L215.5,19.1L216,19.7L216.5,20.4L217,21.1L217.5,21.9L218,22.7L218.5,23.7L219,24.6L219.5,25.7L220,26.7L220.5,27.9L221,29.1L221.5,30.4L222,31.7L222.5,33L223,34.5L223.5,35.9L224,37.5L224.5,39L225,40.6L225.5,42.3L226,44L226.5,45.8L227,47.6L227.5,49.4L228,51.3L228.5,53.2L229,55.2L229.5,57.1L230,59.2L230.5,61.2L231,63.3L231.5,65.4L232,67.5L232.5,69.6L233,71.8L233.5,74L234,76.2L234.5,78.4L235,80.6L235.5,82.8L236,85L236.5,87.3L237,89.5L237.5,91.8L238,94L238.5,96.2L239,98.5L239.5,100.7L240,102.9L240.5,105.1L241,107.3L241.5,109.4L242,111.6L242.5,113.7L243,115.8L243.5,117.9L244,119.9L244.5,122L245,124L245.5,125.9L246,127.9L246.5,129.8L247,131.7L247.5,133.5L248,135.3L248.5,137.1L249,138.9L249.5,140.6L250,142.2L250.5,143.9L251,145.5L251.5,147L252,148.5L252.5,150L253,151.4L253.5,152.8L254,154.2L254.5,155.5L255,156.8L255.5,158L256,159.2L256.5,160.4L257,161.5L257.5,162.6L258,163.7L258.5,164.7L259,165.7L259.5,166.6L260,167.5L260.5,168.4L261,169.3L261.5,170.1L262,170.8L262.5,171.6L263,172.3L263.5,173L264,173.6L264.5,174.3L265,174.9L265.5,175.4L266,176L266.5,176.5L267,177L267.5,177.5L268,177.9L268.5,178.3L269,178.6L269.5,178.9L270,179.2L270.5,179.5L271,179.8L271.5,180L272,180.3L272.5,180.5L273,180.7L273.5,180.8L274,180.9L274.5,181L275,181L275.5,181L276,181L276.5,180.9L277,180.9L277.5,180.8L278,180.8L278.5,180.7L279,180.6L279.5,180.5L280,180.4L280.5,180.4L281,180.3L281.5,180.2L282,180.1L282.5,180L283,179.9L283.5,179.8L284,179.7L284.5,179.6L285,179.5L285.5,179.4L286,179.3L286.5,179.2L287,179L287.5,178.9L288,178.7L288.5,178.6L289,178.4L289.5,178.2L290,178L290.5,177.7L291,177.4L291.5,177L292,176.7L292.5,176.4L293,176L293.5,175.7L294,175.4L294.5,175.2L295,175L295.5,174.8L296,174.6L296.5,174.4L297,174.2L297.5,174L298,173.8L298.5,173.7L299,173.5L299.5,173.3L300,173.2L300.5,173L301,172.8L301.5,172.7L302,172.5L302.5,172.3L303,172.2L303.5,172.1L304,172L304.5,171.9L305,171.8L305.5,171.7L306,171.7L306.5,171.6L307,171.6L307.5,171.5L308,171.5L308.5,171.4L309,171.4L309.5,171.3L310,171.3L310.5,171.3L311,171.2L311.5,171.2L312,171.2L312.5,171.2L313,171.2L313.5,171.2L314,171.2L314.5,171.2L315,171.3L315.5,171.3L316,171.3L316.5,171.4L317,171.4L317.5,171.5L318,171.5L318.5,171.6L319,171.6L319.5,171.7L320,171.7L320.5,171.8L321,171.8L321.5,171.9L322,171.9L322.5,172L323,172.1L323.5,172.2L324,172.3L324.5,172.4L325,172.5L325.5,172.6L326,172.8L326.5,172.9L327,173.1L327.5,173.3L328,173.5L328.5,173.7L329,173.9L329.5,174.1L330,174.3L330.5,174.5L331,174.8L331.5,175L332,175.3L332.5,175.5L333,175.8L333.5,176.1L334,176.3L334.5,176.6L335,176.8L335.5,177.1L336,177.4L336.5,177.6L337,177.9L337.5,178.2L338,178.4L338.5,178.7L339,178.9L339.5,179.2L340,179.4L340.5,179.6L341,179.8L341.5,180L342,180.2L342.5,180.5L343,180.7L343.5,180.9L344,181L344.5,181.2L345,181.3L345.5,181.1L346,181.2L346.5,181.3L347,181.3L347.5,181.4L348,181.5L348.5,181.5L349,181.6L349.5,181.7L350,181.7L350.5,181.7L351,181.7L351.5,181.6L352,181.4L352.5,181.2L353,181.1L353.5,181.2L354,181.3L354.5,181.4L355,181.6L355.5,181.6L356,181.6L356.5,181.7L357,181.7L357.5,181.6L358,181.6L358.5,181.5L359,181.4L359.5,181.4L360,181.3L360.5,181.2L361,181.1L361.5,181L362,181L362.5,181L363,180.9L363.5,181L364,181.1L364.5,181.1L365,181.2L365.5,181.3L366,181.4L366.5,181.6L367,181.7L367.5,181.5L368,181.3L368.5,181.1L369,180.9L369.5,180.9L370,180.9L370.5,180.9L371,180.9L371.5,180.9L372,181L372.5,181.1L373,181.2L373.5,181.1L374,181L374.5,181L375,180.9L375.5,180.9L376,180.9L376.5,180.9L377,181L377.5,180.9L378,180.9L378.5,180.9L379,180.8L379.5,181L380,181.1L380.5,181.2L381,181.3L381.5,181.4L382,181.4L382.5,181.4L383,181.5L383.5,181.4L384,181.3L384.5,181.3L385,181.2L385.5,181.1L386,181.1L386.5,181L387,180.9L387.5,181L388,181L388.5,181L389,181.1L389.5,181.2L390,181.2L390.5,181.3L391,181.3L391.5,181.4L392,181.5L392.5,181.6L393,181.7L393.5,181.7L394,181.7L394.5,181.7L395,181.7L395.5,181.5L396,181.3L396.5,181.2L397,181L397.5,180.9L398,180.8L398.5,180.8L399,180.7L399.5,180.9L400,181.1L400.5,181.3L401,181.5L401.5,181.5L402,181.6L402.5,181.6L403,181.6L403.5,181.5L404,181.3L404.5,181.2L405,181.1L405.5,181.1L406,181.2L406.5,181.3L407,181.3L407.5,181.3L408,181.4L408.5,181.4L409,181.4L409.5,181.3L410,181.2L410.5,181.1L411,181.1L411.5,181.1L412,181.2L412.5,181.2L413,181.3L413.5,181L414,180.8L414.5,180.6L415,180.4L415.5,180.4L416,180.5L416.5,180.5L417,180.6L417.5,180.6L418,180.6L418.5,180.6L419,180.6L419.5,180.5L420,180.5L420.5,180.5L421,180.4L421.5,180.6L422,180.8L422.5,181L423,181.2L423.5,181L424,180.8L424.5,180.6L425,180.4L425.5,180.5L426,180.7L426.5,180.8L427,181L427.5,180.9L428,180.7L428.5,180.6L429,180.4L429.5,180.5L430,180.6L430.5,180.7L431,180.7L431.5,180.8L432,180.8L432.5,180.8L433,180.8L433.5,180.8L434,180.7L434.5,180.7L435,180.6L435.5,180.7L436,180.8L436.5,180.9L437,181L437.5,181L438,181L438.5,181L439,181L439.5,181L440,180.9L440.5,180.9L441,180.8L441.5,180.9L442,181L442.5,181.2L443,181.3L443.5,181.1L444,181L444.5,180.8L445,180.7L445.5,180.7L446,180.7L446.5,180.7L447,180.8L447.5,180.8L448,180.9L448.5,180.9L449,180.9L449.5,181L450,181L450.5,181L451,181L451.5,181L452,180.9L452.5,180.9L453,180.8L453.5,181L454,181.2L454.5,181.4L455,181.6L455.5,181.6L456,181.5L456.5,181.5L457,181.5L457.5,181.3L458,181.1L458.5,181L459,180.8L459.5,180.9L460,180.9L460.5,181L461,181.1L461.5,181.1L462,181L462.5,181L463,181L463.5,181L464,181.1L464.5,181.1L465,181.2L465.5,181.2L466,181.1L466.5,181.1L467,181.1L467.5,181.1L468,181.2L468.5,181.3L469,181.3L469.5,181.4L470,181.5L470.5,181.6L471,181.8L471.5,181.6L472,181.5L472.5,181.4L473,181.2L473.5,181.3L474,181.4L474.5,181.5L475,181.5L475.5,181.5L476,181.5L476.5,181.5L477,181.5L477.5,181.5L478,181.6L478.5,181.6L479,181.7L479.5,181.5L480,181.3L480.5,181.1L481,181L481.5,181.1L482,181.3L482.5,181.5L483,181.6L483.5,181.7L484,181.7L484.5,181.8L485,181.8L485.5,181.8L486,181.7L486.5,181.6L487,181.5L487.5,181.4L488,181.3L488.5,181.3L489,181.2L489.5,181.3L490,181.4L490.5,181.5L491,181.6L491.5,181.6L492,181.6L492.5,181.6L493,181.6L493.5,181.6L494,181.6L494.5,181.6L495,181.6L495.5,181.4L496,181.3L496.5,181.2L497,181L497.5,181.3L498,181.5L498.5,181.7L499,181.9L499.5,181.9L500,181.9L500.5,181.9L501,181.9L501.5,181.7L502,181.6L502.5,181.5L503,181.3L503.5,181.4L504,181.4L504.5,181.5L505,181.5L505.5,181.4L506,181.2L506.5,181.1L507,180.9L507.5,181.2L508,181.4L508.5,181.7L509,181.9L509.5,181.8L510,181.8L510.5,181.8L511,181.7L511.5,181.7L512,181.6L512.5,181.6L513,181.5L513.5,181.6L514,181.6L514.5,181.6L515,181.7L515.5,181.5L516,181.4L516.5,181.2L517,181.1L517.5,181.1L518,181.1L518.5,181.2L519,181.2L519.5,181.2L520,181.2L520.5,181.2L521,181.1L521.5,181.2L522,181.3L522.5,181.4L523,181.5L523.5,181.4L524,181.3L524.5,181.1L525,181L525.5,181.2L526,181.4L526.5,181.6L527,181.8L527.5,181.7L528,181.6L528.5,181.5L529,181.4L529.5,181.4L530,181.4L530.5,181.4L531,181.4L531.5,181.3L532,181.2L532.5,181.2L533,181.1L533.5,181.2L534,181.4L534.5,181.5L535,181.7L535.5,181.7L536,181.7L536.5,181.8L537,181.8L537.5,181.8L538,181.7L538.5,181.7L539,181.6L539.5,181.5L540,181.4L540.5,181.3L541,181.2L541.5,181.4L542,181.5L542.5,181.6L543,181.8L543.5,181.6L544,181.5L544.5,181.3L545,181.1L545.5,181.3L546,181.5L546.5,181.7L547,181.8L547.5,181.8L548,181.7L548.5,181.6L549,181.6L549.5,181.5L550,181.4L550.5,181.4L551,181.3L551.5,181.3L552,181.4L552.5,181.5L553,181.5L553.5,181.5L554,181.6L554.5,181.6L555,181.6L555.5,181.5L556,181.4L556.5,181.4L557,181.3L557.5,181.4L558,181.6L558.5,181.7L559,181.8L559.5,181.7L560,181.6L560.5,181.5L561,181.4L561.5,181.5L562,181.7L562.5,181.8L563,181.9L563.5,181.9L564,181.9L564.5,181.8L565,181.8L565.5,181.6L566,181.4L566.5,181.3L567,181.1L567.5,181.2L568,181.3L568.5,181.5L569,181.6L569.5,181.5L570,181.4L570.5,181.3L571,181.3L571.5,181.4L572,181.5L572.5,181.6L573,181.7L573.5,181.6L574,181.6L574.5,181.5L575,181.5L575.5,181.4L576,181.4L576.5,181.4L577,181.4L577.5,181.5L578,181.6L578.5,181.7L579,181.8L579.5,181.6L580,181.4L580.5,181.2L581,181L581.5,181.1L582,181.2L582.5,181.3L583,181.5L583.5,181.4L584,181.4L584.5,181.3L585,181.2L585.5,181.2L586,181.1L586.5,181L587,181L587.5,181.1L588,181.3L588.5,181.5L589,181.7L589.5,181.7L590,181.6L590.5,181.6L591,181.5L591.5,181.6L592,181.7L592.5,181.8L593,181.9L593.5,181.8L594,181.7L594.5,181.7L595,181.6L595.5,181.5L596,181.5L596.5,181.4L597,181.3L597.5,181.5L598,181.7L598.5,181.8L599,182L599.5,181.8L600,181.6L600.5,181.3L601,181.1L601.5,181.1L602,181.1L602.5,181.1L603,181.1L603.5,181.2L604,181.4L604.5,181.6L605,181.7L605.5,181.6L606,181.6L606.5,181.5L607,181.4L607.5,181.4L608,181.4L608.5,181.4L609,181.4L609.5,181.5L610,181.6L610.5,181.7L611,181.9L611.5,181.7L612,181.6L612.5,181.5L613,181.3L613.5,181.5L614,181.6L614.5,181.7L615,181.9L615.5,181.8L616,181.8L616.5,181.7L617,181.6L617.5,181.6L618,181.5L618.5,181.4L619,181.3L619.5,181.3L620,181.2L620.5,181.1L621,181.1L621.5,181.1L622,181.2L622.5,181.2L623,181.2L623.5,181.4L624,181.6L624.5,181.8L625,182L625.5,181.8L626,181.7L626.5,181.5L627,181.4L627.5,181.3L628,181.3L628.5,181.2L629,181.2L629.5,181.2L630,181.2L630.5,181.3L631,181.3L631.5,181.4L632,181.6L632.5,181.7L633,181.9L633.5,181.7L634,181.5L634.5,181.3L635,181.2L635.5,181.3L636,181.5L636.5,181.6L637,181.8L637.5,181.6L638,181.5L638.5,181.3L639,181.1L639.5,181.3L640,181.5L640.5,181.8L641,182L641.5,181.9L642,181.7L642.5,181.6L643,181.5L643.5,181.4L644,181.3L644.5,181.2L645,181L645.5,181.3L646,181.5L646.5,181.7L647,181.9L647.5,181.8L648,181.6L648.5,181.5L649,181.4L649.5,181.5L650,181.5L650.5,181.6L651,181.7L651.5,181.7L652,181.6L652.5,181.6L653,181.5L653.5,181.4L654,181.3L654.5,181.2L655,181.1L655.5,181.1L656,181.1L656.5,181.1L657,181.1L657.5,181.1L658,181.1L658.5,181.1L659,181.1L659.5,181.2L660,181.2L660.5,181.2L661,181.2L661.5,181.1L662,181.1L662.5,181.1L663,181.1L663.5,181.1L664,181L664.5,181L665,181L665.5,181.3L666,181.5L666.5,181.7L667,181.9L667.5,181.7L668,181.5L668.5,181.3L669,181.1L669.5,181.2L670,181.3L670.5,181.4L671,181.5L671.5,181.4L672,181.3L672.5,181.2L673,181.1L673.5,181.1L674,181.2L674.5,181.2L675,181.2L675.5,181.4L676,181.5L676.5,181.6L677,181.8L677.5,181.8L678,181.9L678.5,181.9L679,181.9L679.5,181.8L680,181.7L680.5,181.6L681,181.5L681.5,181.4L682,181.2L682.5,181.1L683,181L683.5,181.3L684,181.5L684.5,181.8L685,182" fill="none" stroke="#0000ff" stroke-width="2.8" stroke-dasharray="2 2"/><path d="M84,182.1L84.5,182.3L85,182.6L85.5,182.5L86,182.4L86.5,182.2L87,182.1L87.5,182.2L88,182.3L88.5,182.3L89,182.4L89.5,182.5L90,182.5L90.5,182.6L91,182.7L91.5,182.6L92,182.5L92.5,182.5L93,182.4L93.5,182.4L94,182.3L94.5,182.3L95,182.3L95.5,182.3L96,182.4L96.5,182.5L97,182.7L97.5,182.9L98,183.1L98.5,183.2L99,183.4L99.5,183.7L100,183.9L100.5,184L101,184L101.5,183.7L102,183.3L102.5,182.9L103,182.5L103.5,182.3L104,182.1L104.5,181.9L105,181.8L105.5,182L106,182.2L106.5,182.3L107,182.5L107.5,182.3L108,182.1L108.5,181.9L109,181.7L109.5,181.8L110,181.8L110.5,181.9L111,181.9L111.5,181.9L112,181.8L112.5,181.8L113,181.8L113.5,181.9L114,182L114.5,182.1L115,182.3L115.5,182.3L116,182.3L116.5,182.3L117,182.3L117.5,182.3L118,182.3L118.5,182.3L119,182.3L119.5,182.2L120,182.1L120.5,182L121,181.9L121.5,181.9L122,181.9L122.5,181.9L123,181.9L123.5,181.8L124,181.8L124.5,181.8L125,181.8L125.5,181.8L126,181.8L126.5,181.8L127,181.8L127.5,181.7L128,181.6L128.5,181.5L129,181.5L129.5,181.5L130,181.5L130.5,181.5L131,181.5L131.5,181.7L132,182L132.5,182.2L133,182.5L133.5,182.5L134,182.5L134.5,182.5L135,182.5L135.5,182.3L136,182.1L136.5,181.8L137,181.6L137.5,181.6L138,181.7L138.5,181.8L139,182L139.5,182.3L140,182.5L140.5,182.8L141,183L141.5,183.3L142,183.4L142.5,183.6L143,183.6L143.5,183.5L144,183.3L144.5,183.1L145,182.9L145.5,182.5L146,182.1L146.5,181.7L147,181.4L147.5,181.6L148,181.7L148.5,181.9L149,182L149.5,181.8L150,181.6L150.5,181.4L151,181.3L151.5,181.4L152,181.5L152.5,181.7L153,181.8L153.5,181.9L154,181.9L154.5,181.9L155,182L155.5,182.1L156,182.2L156.5,182.3L157,182.4L157.5,182.2L158,182L158.5,181.8L159,181.6L159.5,181.8L160,182L160.5,182.2L161,182.4L161.5,182.4L162,182.4L162.5,182.4L163,182.4L163.5,182.4L164,182.4L164.5,182.4L165,182.4L165.5,182.1L166,181.8L166.5,181.5L167,181.2L167.5,181.3L168,181.6L168.5,181.5L169,181.2L169.5,181L170,180.7L170.5,180.3L171,180L171.5,179.6L172,179.2L172.5,178.9L173,178.4L173.5,178L174,177.4L174.5,176.9L175,176.3L175.5,175.6L176,175L176.5,174.3L177,173.5L177.5,172.8L178,172L178.5,171.2L179,170.2L179.5,169.3L180,168.2L180.5,167.2L181,166L181.5,164.8L182,163.6L182.5,162.3L183,160.8L183.5,159.3L184,157.7L184.5,156L185,154.2L185.5,152.2L186,150.1L186.5,147.7L187,144.9L187.5,141.9L188,138.8L188.5,135.6L189,132.5L189.5,129.5L190,126.4L190.5,123.2L191,120.2L191.5,117.4L192,114.9L192.5,112.5L193,110.2L193.5,107.9L194,105.5L194.5,103.1L195,100.7L195.5,98.3L196,95.8L196.5,93.4L197,91L197.5,88.7L198,86.4L198.5,84L199,81.3L199.5,78L200,73.6L200.5,68.3L201,62.6L201.5,56L202,49.9L202.5,45.8L203,42.6L203.5,39.5L204,36.2L204.5,33.1L205,31L205.5,29.5L206,28.3L206.5,27.5L207,27.1L207.5,26.7L208,26.2L208.5,25.3L209,23L209.5,20.8L210,19.9L210.5,19.4L211,19L211.5,18.5L212,18L212.5,17.5L213,17L213.5,16.6L214,16.2L214.5,16.4L215,17.5L215.5,20.6L216,24.5L216.5,28.7L217,32L217.5,33L218,33.4L218.5,33.7L219,34L219.5,34.3L220,34.8L220.5,35.8L221,37.1L221.5,39L222,42.2L222.5,46.1L223,50.1L223.5,54.6L224,58.6L224.5,61.8L225,64.7L225.5,67.6L226,70.4L226.5,73.3L227,76L227.5,78.7L228,81.4L228.5,84L229,86.6L229.5,89.1L230,91.5L230.5,93.7L231,95.7L231.5,97.5L232,99.3L232.5,101.2L233,103.2L233.5,105.5L234,108.2L234.5,111.5L235,114.9L235.5,118L236,120.7L236.5,123.3L237,125.8L237.5,128.3L238,130.8L238.5,133.5L239,136.2L239.5,139L240,141.6L240.5,144L241,146.2L241.5,148.4L242,150.5L242.5,152.4L243,154.3L243.5,156L244,157.5L244.5,159L245,160.4L245.5,161.7L246,163L246.5,164.1L247,165.3L247.5,166.4L248,167.4L248.5,168.4L249,169.3L249.5,170.3L250,171.3L250.5,172.4L251,173.4L251.5,174.4L252,175.3L252.5,176.1L253,176.9L253.5,177.7L254,178.4L254.5,179.1L255,179.5L255.5,179.8L256,180L256.5,180.2L257,180.3L257.5,180.4L258,180.5L258.5,180.8L259,181.2L259.5,181.1L260,180.9L260.5,180.8L261,180.7L261.5,180.9L262,181.1L262.5,181.4L263,181.6L263.5,181.8L264,182L264.5,182.2L265,182.3L265.5,182.3L266,182.3L266.5,182.2L267,182.2L267.5,182.2L268,182.3L268.5,182.3L269,182.3L269.5,182.5L270,182.7L270.5,182.8L271,183L271.5,182.8L272,182.6L272.5,182.4L273,182.2L273.5,182.4L274,182.5L274.5,182.7L275,182.9L275.5,182.8L276,182.8L276.5,182.7L277,182.7L277.5,182.9L278,183L278.5,183.2L279,183.4L279.5,183.3L280,183.2L280.5,183L281,182.7L281.5,182.3L282,181.8L282.5,181.4L283,181L283.5,180.9L284,181L284.5,181L285,181.1L285.5,181.3L286,181.5L286.5,181.7L287,181.9L287.5,182.1L288,182.2L288.5,182.3L289,182.4L289.5,182.3L290,182.2L290.5,182.1L291,182L291.5,182L292,182L292.5,182L293,182L293.5,182.1L294,182.3L294.5,182.4L295,182.6L295.5,182.6L296,182.6L296.5,182.6L297,182.6L297.5,182.4L298,182.2L298.5,182.1L299,181.9L299.5,182L300,182.2L300.5,182.3L301,182.5L301.5,182.3L302,182.1L302.5,182L303,181.8L303.5,181.7L304,181.7L304.5,181.6L305,181.5L305.5,181.7L306,181.8L306.5,182L307,182.1L307.5,182.1L308,182.2L308.5,182.2L309,182.3L309.5,182.4L310,182.4L310.5,182.5L311,182.6L311.5,182.6L312,182.7L312.5,182.7L313,182.7L313.5,182.7L314,182.6L314.5,182.6L315,182.5L315.5,182.5L316,182.5L316.5,182.6L317,182.6L317.5,182.6L318,182.5L318.5,182.5L319,182.5L319.5,182.5L320,182.5L320.5,182.6L321,182.6L321.5,182.6L322,182.6L322.5,182.6L323,182.7L323.5,182.7L324,182.8L324.5,182.9L325,183L325.5,182.8L326,182.6L326.5,182.4L327,182.3L327.5,182.2L328,182.1L328.5,182L329,182L329.5,182L330,182.1L330.5,182.1L331,182.2L331.5,182.2L332,182.2L332.5,182.2L333,182.2L333.5,182.3L334,182.3L334.5,182.4L335,182.4L335.5,182.5L336,182.7L336.5,182.8L337,183L337.5,182.7L338,182.5L338.5,182.3L339,182.1L339.5,182.2L340,182.3L340.5,182.4L341,182.5L341.5,182.6L342,182.8L342.5,182.9L343,183L343.5,182.8L344,182.6L344.5,182.5L345,182.3L345.5,182.2L346,182.2L346.5,182.1L347,182L347.5,182.1L348,182.1L348.5,182.2L349,182.2L349.5,182.2L350,182.1L350.5,182L351,182L351.5,182.2L352,182.4L352.5,182.6L353,182.8L353.5,182.6L354,182.4L354.5,182.2L355,182L355.5,182L356,182L356.5,182L357,182L357.5,182.2L358,182.4L358.5,182.6L359,182.8L359.5,182.8L360,182.8L360.5,182.8L361,182.8L361.5,182.7L362,182.6L362.5,182.6L363,182.5L363.5,182.6L364,182.7L364.5,182.8L365,182.9L365.5,182.7L366,182.4L366.5,182.2L367,181.9L367.5,182.2L368,182.5L368.5,182.8L369,183L369.5,182.9L370,182.8L370.5,182.7L371,182.6L371.5,182.5L372,182.5L372.5,182.4L373,182.3L373.5,182.5L374,182.6L374.5,182.8L375,183L375.5,182.9L376,182.9L376.5,182.8L377,182.8L377.5,182.9L378,183L378.5,183.1L379,183.2L379.5,182.9L380,182.7L380.5,182.4L381,182.1L381.5,182.3L382,182.4L382.5,182.6L383,182.7L383.5,182.7L384,182.6L384.5,182.6L385,182.6L385.5,182.6L386,182.7L386.5,182.7L387,182.8L387.5,182.7L388,182.5L388.5,182.4L389,182.3L389.5,182.2L390,182.2L390.5,182.1L391,182L391.5,182.2L392,182.3L392.5,182.5L393,182.7L393.5,182.6L394,182.5L394.5,182.5L395,182.4L395.5,182.6L396,182.8L396.5,182.9L397,183.1L397.5,182.9L398,182.8L398.5,182.7L399,182.6L399.5,182.5L400,182.5L400.5,182.5L401,182.5L401.5,182.6L402,182.6L402.5,182.7L403,182.8L403.5,182.7L404,182.7L404.5,182.7L405,182.6L405.5,182.8L406,182.9L406.5,183L407,183.2L407.5,183.1L408,183.1L408.5,183L409,182.9L409.5,182.9L410,182.8L410.5,182.7L411,182.6L411.5,182.5L412,182.4L412.5,182.3L413,182.3L413.5,182.4L414,182.5L414.5,182.6L415,182.7L415.5,182.8L416,182.8L416.5,182.9L417,182.9L417.5,182.9L418,182.9L418.5,182.9L419,182.9L419.5,183L420,183L420.5,183.1L421,183.2L421.5,183L422,182.7L422.5,182.5L423,182.3L423.5,182.3L424,182.4L424.5,182.5L425,182.5L425.5,182.5L426,182.5L426.5,182.5L427,182.5L427.5,182.5L428,182.5L428.5,182.4L429,182.4L429.5,182.4L430,182.4L430.5,182.5L431,182.5L431.5,182.5L432,182.6L432.5,182.6L433,182.6L433.5,182.7L434,182.7L434.5,182.7L435,182.7L435.5,182.6L436,182.6L436.5,182.5L437,182.4L437.5,182.4L438,182.3L438.5,182.3L439,182.3L439.5,182.3L440,182.4L440.5,182.4L441,182.5L441.5,182.4L442,182.4L442.5,182.3L443,182.3L443.5,182.3L444,182.4L444.5,182.5L445,182.5L445.5,182.6L446,182.7L446.5,182.8L447,183L447.5,182.9L448,182.9L448.5,182.9L449,182.9L449.5,183L450,183.1L450.5,183.2L451,183.4L451.5,183.2L452,183.1L452.5,183L453,182.9L453.5,182.9L454,182.9L454.5,182.8L455,182.8L455.5,182.9L456,182.9L456.5,182.9L457,183L457.5,183L458,183L458.5,183L459,183.1L459.5,183L460,183L460.5,183L461,182.9L461.5,182.9L462,182.9L462.5,182.9L463,182.9L463.5,182.9L464,182.9L464.5,182.9L465,182.9L465.5,182.9L466,182.8L466.5,182.7L467,182.6L467.5,182.8L468,182.9L468.5,183L469,183.1L469.5,183.1L470,183L470.5,183L471,182.9L471.5,182.8L472,182.7L472.5,182.7L473,182.6L473.5,182.6L474,182.5L474.5,182.5L475,182.5L475.5,182.4L476,182.4L476.5,182.3L477,182.3L477.5,182.4L478,182.5L478.5,182.5L479,182.6L479.5,182.5L480,182.4L480.5,182.3L481,182.2L481.5,182.3L482,182.3L482.5,182.3L483,182.4L483.5,182.4L484,182.3L484.5,182.3L485,182.3L485.5,182.3L486,182.4L486.5,182.4L487,182.5L487.5,182.5L488,182.5L488.5,182.6L489,182.6L489.5,182.6L490,182.7L490.5,182.8L491,182.9L491.5,182.9L492,183L492.5,183L493,183.1L493.5,183L494,183L494.5,182.9L495,182.9L495.5,182.7L496,182.6L496.5,182.4L497,182.3L497.5,182.5L498,182.7L498.5,183L499,183.2L499.5,183.1L500,183.1L500.5,183L501,183L501.5,182.9L502,182.8L502.5,182.8L503,182.7L503.5,182.7L504,182.8L504.5,182.8L505,182.9L505.5,182.8L506,182.8L506.5,182.8L507,182.7L507.5,182.6L508,182.5L508.5,182.4L509,182.3L509.5,182.4L510,182.6L510.5,182.7L511,182.9L511.5,183L512,183.1L512.5,183.2L513,183.3L513.5,183.2L514,183.2L514.5,183.1L515,183L515.5,182.8L516,182.7L516.5,182.5L517,182.3L517.5,182.3L518,182.3L518.5,182.3L519,182.2L519.5,182.5L520,182.7L520.5,183L521,183.2L521.5,183.2L522,183.2L522.5,183.2L523,183.2L523.5,183.1L524,183.1L524.5,183L525,183L525.5,183L526,183L526.5,183L527,183L527.5,182.8L528,182.6L528.5,182.4L529,182.2L529.5,182.4L530,182.6L530.5,182.8L531,183L531.5,182.8L532,182.6L532.5,182.4L533,182.3L533.5,182.2L534,182.2L534.5,182.2L535,182.2L535.5,182.3L536,182.3L536.5,182.4L537,182.5L537.5,182.4L538,182.2L538.5,182.1L539,182L539.5,182.3L540,182.5L540.5,182.8L541,183L541.5,182.8L542,182.6L542.5,182.4L543,182.2L543.5,182.4L544,182.5L544.5,182.7L545,182.9L545.5,182.8L546,182.8L546.5,182.7L547,182.7L547.5,182.8L548,182.8L548.5,182.9L549,182.9L549.5,182.9L550,182.8L550.5,182.8L551,182.7L551.5,182.8L552,182.9L552.5,183L553,183.2L553.5,183L554,182.8L554.5,182.6L555,182.5L555.5,182.5L556,182.5L556.5,182.6L557,182.6L557.5,182.5L558,182.5L558.5,182.5L559,182.4L559.5,182.5L560,182.6L560.5,182.8L561,182.9L561.5,182.8L562,182.6L562.5,182.5L563,182.4L563.5,182.5L564,182.7L564.5,182.8L565,183L565.5,182.8L566,182.6L566.5,182.3L567,182.1L567.5,182.2L568,182.2L568.5,182.3L569,182.3L569.5,182.4L570,182.5L570.5,182.5L571,182.6L571.5,182.5L572,182.4L572.5,182.3L573,182.2L573.5,182.2L574,182.3L574.5,182.3L575,182.3L575.5,182.5L576,182.7L576.5,182.9L577,183.1L577.5,183L578,182.8L578.5,182.7L579,182.5L579.5,182.5L580,182.5L580.5,182.4L581,182.4L581.5,182.6L582,182.7L582.5,182.9L583,183.1L583.5,183L584,183L584.5,182.9L585,182.8L585.5,182.8L586,182.8L586.5,182.8L587,182.9L587.5,182.9L588,183L588.5,183.1L589,183.2L589.5,183.1L590,183.1L590.5,183L591,183L591.5,182.8L592,182.7L592.5,182.6L593,182.4L593.5,182.3L594,182.3L594.5,182.2L595,182.1L595.5,182.3L596,182.4L596.5,182.6L597,182.8L597.5,182.8L598,182.9L598.5,182.9L599,182.9L599.5,183L600,183L600.5,183L601,183.1L601.5,182.9L602,182.7L602.5,182.5L603,182.3L603.5,182.5L604,182.6L604.5,182.7L605,182.9L605.5,183L606,183L606.5,183.1L607,183.2L607.5,183L608,182.8L608.5,182.6L609,182.4L609.5,182.4L610,182.4L610.5,182.4L611,182.5L611.5,182.5L612,182.5L612.5,182.6L613,182.6L613.5,182.7L614,182.7L614.5,182.7L615,182.8L615.5,182.9L616,183L616.5,183.2L617,183.3L617.5,183.2L618,183L618.5,182.9L619,182.8L619.5,182.9L620,183L620.5,183.1L621,183.2L621.5,183.1L622,183L622.5,183L623,182.9L623.5,182.8L624,182.8L624.5,182.7L625,182.7L625.5,182.6L626,182.5L626.5,182.5L627,182.4L627.5,182.4L628,182.5L628.5,182.5L629,182.5L629.5,182.6L630,182.7L630.5,182.9L631,183L631.5,182.8L632,182.6L632.5,182.4L633,182.2L633.5,182.2L634,182.2L634.5,182.2L635,182.2L635.5,182.2L636,182.2L636.5,182.2L637,182.3L637.5,182.4L638,182.5L638.5,182.7L639,182.8L639.5,182.7L640,182.6L640.5,182.5L641,182.4L641.5,182.4L642,182.3L642.5,182.3L643,182.3L643.5,182.3L644,182.3L644.5,182.4L645,182.4L645.5,182.3L646,182.3L646.5,182.2L647,182.1L647.5,182.2L648,182.3L648.5,182.5L649,182.6L649.5,182.7L650,182.8L650.5,182.9L651,183L651.5,182.9L652,182.8L652.5,182.7L653,182.6L653.5,182.6L654,182.6L654.5,182.6L655,182.6L655.5,182.5L656,182.4L656.5,182.3L657,182.1L657.5,182.2L658,182.3L658.5,182.4L659,182.4L659.5,182.4L660,182.3L660.5,182.3L661,182.2L661.5,182.2L662,182.2L662.5,182.2L663,182.2L663.5,182.4L664,182.6L664.5,182.9L665,183.1L665.5,183.1L666,183L666.5,183L667,183L667.5,183L668,183L668.5,183.1L669,183.1L669.5,182.9L670,182.7L670.5,182.5L671,182.2L671.5,182.3L672,182.4L672.5,182.4L673,182.5L673.5,182.7L674,182.8L674.5,183L675,183.2L675.5,183L676,182.9L676.5,182.7L677,182.6L677.5,182.7L678,182.9L678.5,183L679,183.2L679.5,183.2L680,183.2L680.5,183.2L681,183.2L681.5,182.9L682,182.6L682.5,182.3L683,182L683.5,182.1L684,182.3L684.5,182.4L685,182.5" fill="none" stroke="#0000ff" stroke-width="2.2" stroke-linejoin="round"/><g stroke="#2020ff" stroke-width="0.9" fill="none"><path d="M196.5,110.3H206.2M199.6,107.2L196.5,110.3L199.6,113.4"/><path d="M219.9,110.3H229.6M226.5,107.2L229.6,110.3L226.5,113.4"/></g><text x="191.2" y="128" font-size="11" fill="#1a1aff">140 meV</text><g stroke="#ff2020" stroke-width="0.9" fill="none"><path d="M434.6,116.8H444.8M437.7,113.7L434.6,116.8L437.7,119.9"/><path d="M499.6,116.8H509.4M506.3,113.7L509.4,116.8L506.3,119.9"/></g><text x="451.8" y="120.5" font-size="11" fill="#ff1a1a">280 meV</text><text x="0" y="13.5" font-size="16" font-weight="bold" fill="#000">a)</text><text x="0" y="211.5" font-size="16" font-weight="bold" fill="#000">b)</text><text x="78.4" y="22.6" font-size="16" text-anchor="end" letter-spacing="0.5" fill="#404040">1</text><text x="78.4" y="105.9" font-size="16" text-anchor="end" letter-spacing="0.5" fill="#404040">0.5</text><text x="78.4" y="189.2" font-size="16" text-anchor="end" letter-spacing="0.5" fill="#404040">0</text><text x="78.4" y="235.0" font-size="16" text-anchor="end" letter-spacing="0.5" fill="#404040">1</text><text x="78.4" y="312.2" font-size="16" text-anchor="end" letter-spacing="0.5" fill="#404040">0.5</text><text x="78.4" y="389.3" font-size="16" text-anchor="end" letter-spacing="0.5" fill="#404040">0</text><text x="112.2" y="209.8" font-size="16" text-anchor="middle" letter-spacing="0.5" fill="#404040">370</text><text x="168.0" y="209.8" font-size="16" text-anchor="middle" letter-spacing="0.5" fill="#404040">380</text><text x="223.8" y="209.8" font-size="16" text-anchor="middle" letter-spacing="0.5" fill="#404040">390</text><text x="279.7" y="209.8" font-size="16" text-anchor="middle" letter-spacing="0.5" fill="#404040">400</text><text x="335.5" y="209.8" font-size="16" text-anchor="middle" letter-spacing="0.5" fill="#404040">410</text><text x="391.4" y="209.8" font-size="16" text-anchor="middle" letter-spacing="0.5" fill="#404040">420</text><text x="447.2" y="209.8" font-size="16" text-anchor="middle" letter-spacing="0.5" fill="#404040">430</text><text x="503.0" y="209.8" font-size="16" text-anchor="middle" letter-spacing="0.5" fill="#404040">440</text><text x="558.9" y="209.8" font-size="16" text-anchor="middle" letter-spacing="0.5" fill="#404040">450</text><text x="614.7" y="209.8" font-size="16" text-anchor="middle" letter-spacing="0.5" fill="#404040">460</text><text x="670.6" y="209.8" font-size="16" text-anchor="middle" letter-spacing="0.5" fill="#404040">470</text><text x="112.2" y="406.8" font-size="16" text-anchor="middle" letter-spacing="0.5" fill="#404040">740</text><text x="168.0" y="406.8" font-size="16" text-anchor="middle" letter-spacing="0.5" fill="#404040">760</text><text x="223.8" y="406.8" font-size="16" text-anchor="middle" letter-spacing="0.5" fill="#404040">780</text><text x="279.7" y="406.8" font-size="16" text-anchor="middle" letter-spacing="0.5" fill="#404040">800</text><text x="335.5" y="406.8" font-size="16" text-anchor="middle" letter-spacing="0.5" fill="#404040">820</text><text x="391.4" y="406.8" font-size="16" text-anchor="middle" letter-spacing="0.5" fill="#404040">840</text><text x="447.2" y="406.8" font-size="16" text-anchor="middle" letter-spacing="0.5" fill="#404040">860</text><text x="503.0" y="406.8" font-size="16" text-anchor="middle" letter-spacing="0.5" fill="#404040">880</text><text x="558.9" y="406.8" font-size="16" text-anchor="middle" letter-spacing="0.5" fill="#404040">900</text><text x="614.7" y="406.8" font-size="16" text-anchor="middle" letter-spacing="0.5" fill="#404040">920</text><text x="670.6" y="406.8" font-size="16" text-anchor="middle" letter-spacing="0.5" fill="#404040">940</text><text transform="translate(46.1,101) rotate(-90)" font-size="18" text-anchor="middle" fill="#404040">Intensity [arb. u.]</text><text transform="translate(46.1,298.4) rotate(-90)" font-size="18" text-anchor="middle" fill="#404040">Intensity [arb. u.]</text><text x="383.2" y="430" font-size="18" text-anchor="middle" fill="#404040">Wavelength [nm]</text></svg></body></html>
